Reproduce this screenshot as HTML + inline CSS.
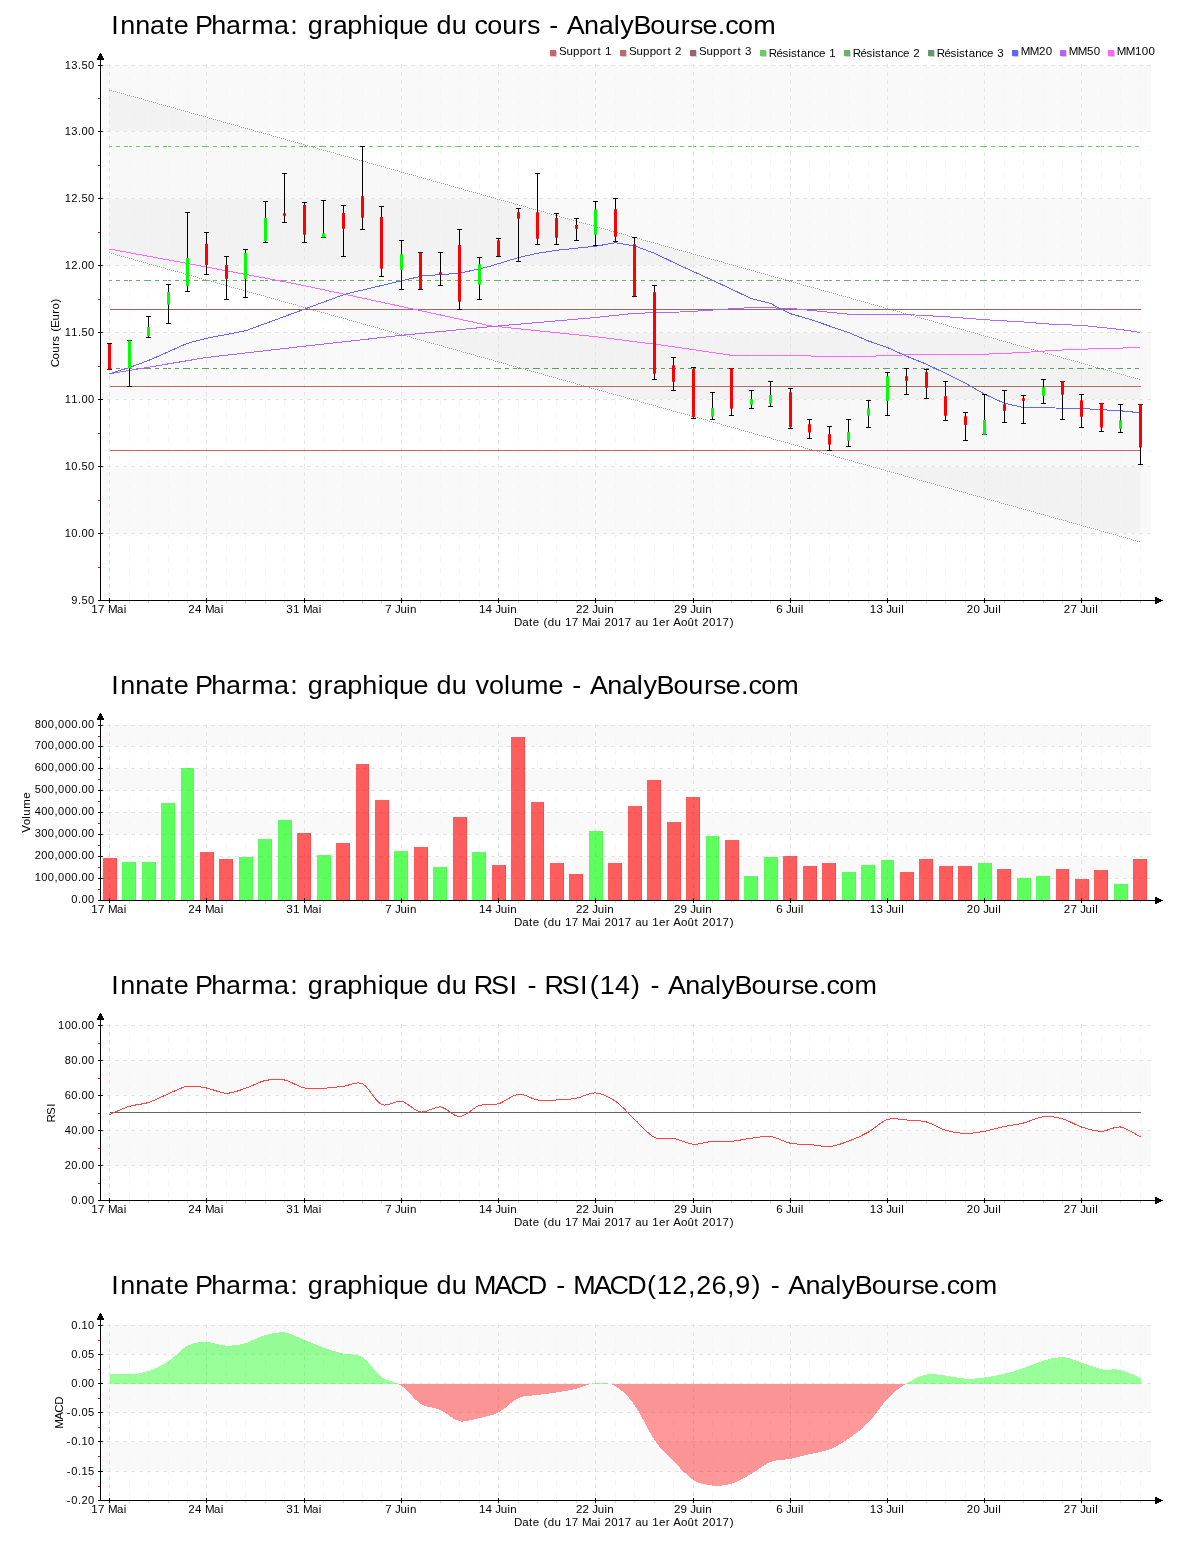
<!DOCTYPE html>
<html><head><meta charset="utf-8"><title>Innate Pharma</title>
<style>html,body{margin:0;padding:0;background:#fff}svg{display:block;will-change:transform}text{font-family:"Liberation Sans",sans-serif}</style>
</head><body>
<svg width="1200" height="1550" viewBox="0 0 1200 1550">
<rect width="1200" height="1550" fill="#fff"/>
<rect x="102" y="65" width="1049" height="66" fill="#f9f9f9"/>
<rect x="102" y="198" width="1049" height="67" fill="#f9f9f9"/>
<rect x="102" y="332" width="1049" height="67" fill="#f9f9f9"/>
<rect x="102" y="466" width="1049" height="67" fill="#f9f9f9"/>
<polygon points="109.5,90 1140.5,379.7 1140.5,542 109.5,252.8" fill="#000" fill-opacity="0.027"/>
<line x1="109.5" y1="64" x2="109.5" y2="600" stroke="#e4e4e4" stroke-dasharray="4 4" shape-rendering="crispEdges"/>
<line x1="129.5" y1="64" x2="129.5" y2="600" stroke="#f5f5f5" stroke-dasharray="6 6" shape-rendering="crispEdges"/>
<line x1="148.5" y1="64" x2="148.5" y2="600" stroke="#f5f5f5" stroke-dasharray="6 6" shape-rendering="crispEdges"/>
<line x1="168.5" y1="64" x2="168.5" y2="600" stroke="#f5f5f5" stroke-dasharray="6 6" shape-rendering="crispEdges"/>
<line x1="187.5" y1="64" x2="187.5" y2="600" stroke="#f5f5f5" stroke-dasharray="6 6" shape-rendering="crispEdges"/>
<line x1="206.5" y1="64" x2="206.5" y2="600" stroke="#e4e4e4" stroke-dasharray="4 4" shape-rendering="crispEdges"/>
<line x1="226.5" y1="64" x2="226.5" y2="600" stroke="#f5f5f5" stroke-dasharray="6 6" shape-rendering="crispEdges"/>
<line x1="245.5" y1="64" x2="245.5" y2="600" stroke="#f5f5f5" stroke-dasharray="6 6" shape-rendering="crispEdges"/>
<line x1="265.5" y1="64" x2="265.5" y2="600" stroke="#f5f5f5" stroke-dasharray="6 6" shape-rendering="crispEdges"/>
<line x1="284.5" y1="64" x2="284.5" y2="600" stroke="#f5f5f5" stroke-dasharray="6 6" shape-rendering="crispEdges"/>
<line x1="304.5" y1="64" x2="304.5" y2="600" stroke="#e4e4e4" stroke-dasharray="4 4" shape-rendering="crispEdges"/>
<line x1="323.5" y1="64" x2="323.5" y2="600" stroke="#f5f5f5" stroke-dasharray="6 6" shape-rendering="crispEdges"/>
<line x1="343.5" y1="64" x2="343.5" y2="600" stroke="#f5f5f5" stroke-dasharray="6 6" shape-rendering="crispEdges"/>
<line x1="362.5" y1="64" x2="362.5" y2="600" stroke="#f5f5f5" stroke-dasharray="6 6" shape-rendering="crispEdges"/>
<line x1="381.5" y1="64" x2="381.5" y2="600" stroke="#f5f5f5" stroke-dasharray="6 6" shape-rendering="crispEdges"/>
<line x1="401.5" y1="64" x2="401.5" y2="600" stroke="#e4e4e4" stroke-dasharray="4 4" shape-rendering="crispEdges"/>
<line x1="420.5" y1="64" x2="420.5" y2="600" stroke="#f5f5f5" stroke-dasharray="6 6" shape-rendering="crispEdges"/>
<line x1="440.5" y1="64" x2="440.5" y2="600" stroke="#f5f5f5" stroke-dasharray="6 6" shape-rendering="crispEdges"/>
<line x1="459.5" y1="64" x2="459.5" y2="600" stroke="#f5f5f5" stroke-dasharray="6 6" shape-rendering="crispEdges"/>
<line x1="479.5" y1="64" x2="479.5" y2="600" stroke="#f5f5f5" stroke-dasharray="6 6" shape-rendering="crispEdges"/>
<line x1="498.5" y1="64" x2="498.5" y2="600" stroke="#e4e4e4" stroke-dasharray="4 4" shape-rendering="crispEdges"/>
<line x1="518.5" y1="64" x2="518.5" y2="600" stroke="#f5f5f5" stroke-dasharray="6 6" shape-rendering="crispEdges"/>
<line x1="537.5" y1="64" x2="537.5" y2="600" stroke="#f5f5f5" stroke-dasharray="6 6" shape-rendering="crispEdges"/>
<line x1="556.5" y1="64" x2="556.5" y2="600" stroke="#f5f5f5" stroke-dasharray="6 6" shape-rendering="crispEdges"/>
<line x1="576.5" y1="64" x2="576.5" y2="600" stroke="#f5f5f5" stroke-dasharray="6 6" shape-rendering="crispEdges"/>
<line x1="595.5" y1="64" x2="595.5" y2="600" stroke="#e4e4e4" stroke-dasharray="4 4" shape-rendering="crispEdges"/>
<line x1="615.5" y1="64" x2="615.5" y2="600" stroke="#f5f5f5" stroke-dasharray="6 6" shape-rendering="crispEdges"/>
<line x1="634.5" y1="64" x2="634.5" y2="600" stroke="#f5f5f5" stroke-dasharray="6 6" shape-rendering="crispEdges"/>
<line x1="654.5" y1="64" x2="654.5" y2="600" stroke="#f5f5f5" stroke-dasharray="6 6" shape-rendering="crispEdges"/>
<line x1="673.5" y1="64" x2="673.5" y2="600" stroke="#f5f5f5" stroke-dasharray="6 6" shape-rendering="crispEdges"/>
<line x1="693.5" y1="64" x2="693.5" y2="600" stroke="#e4e4e4" stroke-dasharray="4 4" shape-rendering="crispEdges"/>
<line x1="712.5" y1="64" x2="712.5" y2="600" stroke="#f5f5f5" stroke-dasharray="6 6" shape-rendering="crispEdges"/>
<line x1="731.5" y1="64" x2="731.5" y2="600" stroke="#f5f5f5" stroke-dasharray="6 6" shape-rendering="crispEdges"/>
<line x1="751.5" y1="64" x2="751.5" y2="600" stroke="#f5f5f5" stroke-dasharray="6 6" shape-rendering="crispEdges"/>
<line x1="770.5" y1="64" x2="770.5" y2="600" stroke="#f5f5f5" stroke-dasharray="6 6" shape-rendering="crispEdges"/>
<line x1="790.5" y1="64" x2="790.5" y2="600" stroke="#e4e4e4" stroke-dasharray="4 4" shape-rendering="crispEdges"/>
<line x1="809.5" y1="64" x2="809.5" y2="600" stroke="#f5f5f5" stroke-dasharray="6 6" shape-rendering="crispEdges"/>
<line x1="829.5" y1="64" x2="829.5" y2="600" stroke="#f5f5f5" stroke-dasharray="6 6" shape-rendering="crispEdges"/>
<line x1="848.5" y1="64" x2="848.5" y2="600" stroke="#f5f5f5" stroke-dasharray="6 6" shape-rendering="crispEdges"/>
<line x1="868.5" y1="64" x2="868.5" y2="600" stroke="#f5f5f5" stroke-dasharray="6 6" shape-rendering="crispEdges"/>
<line x1="887.5" y1="64" x2="887.5" y2="600" stroke="#e4e4e4" stroke-dasharray="4 4" shape-rendering="crispEdges"/>
<line x1="906.5" y1="64" x2="906.5" y2="600" stroke="#f5f5f5" stroke-dasharray="6 6" shape-rendering="crispEdges"/>
<line x1="926.5" y1="64" x2="926.5" y2="600" stroke="#f5f5f5" stroke-dasharray="6 6" shape-rendering="crispEdges"/>
<line x1="945.5" y1="64" x2="945.5" y2="600" stroke="#f5f5f5" stroke-dasharray="6 6" shape-rendering="crispEdges"/>
<line x1="965.5" y1="64" x2="965.5" y2="600" stroke="#f5f5f5" stroke-dasharray="6 6" shape-rendering="crispEdges"/>
<line x1="984.5" y1="64" x2="984.5" y2="600" stroke="#e4e4e4" stroke-dasharray="4 4" shape-rendering="crispEdges"/>
<line x1="1004.5" y1="64" x2="1004.5" y2="600" stroke="#f5f5f5" stroke-dasharray="6 6" shape-rendering="crispEdges"/>
<line x1="1023.5" y1="64" x2="1023.5" y2="600" stroke="#f5f5f5" stroke-dasharray="6 6" shape-rendering="crispEdges"/>
<line x1="1043.5" y1="64" x2="1043.5" y2="600" stroke="#f5f5f5" stroke-dasharray="6 6" shape-rendering="crispEdges"/>
<line x1="1062.5" y1="64" x2="1062.5" y2="600" stroke="#f5f5f5" stroke-dasharray="6 6" shape-rendering="crispEdges"/>
<line x1="1081.5" y1="64" x2="1081.5" y2="600" stroke="#e4e4e4" stroke-dasharray="4 4" shape-rendering="crispEdges"/>
<line x1="1101.5" y1="64" x2="1101.5" y2="600" stroke="#f5f5f5" stroke-dasharray="6 6" shape-rendering="crispEdges"/>
<line x1="1120.5" y1="64" x2="1120.5" y2="600" stroke="#f5f5f5" stroke-dasharray="6 6" shape-rendering="crispEdges"/>
<line x1="1140.5" y1="64" x2="1140.5" y2="600" stroke="#f5f5f5" stroke-dasharray="6 6" shape-rendering="crispEdges"/>
<line x1="107" y1="65.5" x2="1151" y2="65.5" stroke="#e4e4e4" stroke-dasharray="4 4" shape-rendering="crispEdges"/>
<line x1="101" y1="131.5" x2="1151" y2="131.5" stroke="#fff" stroke-opacity="0.75" shape-rendering="crispEdges"/>
<line x1="107" y1="131.5" x2="1151" y2="131.5" stroke="#e4e4e4" stroke-dasharray="4 4" shape-rendering="crispEdges"/>
<line x1="101" y1="198.5" x2="1151" y2="198.5" stroke="#fff" stroke-opacity="0.75" shape-rendering="crispEdges"/>
<line x1="107" y1="198.5" x2="1151" y2="198.5" stroke="#e4e4e4" stroke-dasharray="4 4" shape-rendering="crispEdges"/>
<line x1="101" y1="265.5" x2="1151" y2="265.5" stroke="#fff" stroke-opacity="0.75" shape-rendering="crispEdges"/>
<line x1="107" y1="265.5" x2="1151" y2="265.5" stroke="#e4e4e4" stroke-dasharray="4 4" shape-rendering="crispEdges"/>
<line x1="101" y1="332.5" x2="1151" y2="332.5" stroke="#fff" stroke-opacity="0.75" shape-rendering="crispEdges"/>
<line x1="107" y1="332.5" x2="1151" y2="332.5" stroke="#e4e4e4" stroke-dasharray="4 4" shape-rendering="crispEdges"/>
<line x1="101" y1="399.5" x2="1151" y2="399.5" stroke="#fff" stroke-opacity="0.75" shape-rendering="crispEdges"/>
<line x1="107" y1="399.5" x2="1151" y2="399.5" stroke="#e4e4e4" stroke-dasharray="4 4" shape-rendering="crispEdges"/>
<line x1="101" y1="466.5" x2="1151" y2="466.5" stroke="#fff" stroke-opacity="0.75" shape-rendering="crispEdges"/>
<line x1="107" y1="466.5" x2="1151" y2="466.5" stroke="#e4e4e4" stroke-dasharray="4 4" shape-rendering="crispEdges"/>
<line x1="101" y1="533.5" x2="1151" y2="533.5" stroke="#fff" stroke-opacity="0.75" shape-rendering="crispEdges"/>
<line x1="107" y1="533.5" x2="1151" y2="533.5" stroke="#e4e4e4" stroke-dasharray="4 4" shape-rendering="crispEdges"/>
<path d="M109,90.5h1M111,90.5h1M113,91.5h1M115,91.5h1M117,92.5h1M119,92.5h1M121,93.5h1M123,93.5h1M125,94.5h1M127,95.5h1M129,95.5h1M131,96.5h1M133,96.5h1M135,97.5h1M137,97.5h1M139,98.5h1M141,98.5h1M143,99.5h1M145,100.5h1M147,100.5h1M149,101.5h1M151,101.5h1M153,102.5h1M155,102.5h1M157,103.5h1M159,104.5h1M161,104.5h1M163,105.5h1M165,105.5h1M167,106.5h1M169,106.5h1M171,107.5h1M173,107.5h1M175,108.5h1M177,109.5h1M179,109.5h1M181,110.5h1M183,110.5h1M185,111.5h1M187,111.5h1M189,112.5h1M191,113.5h1M193,113.5h1M195,114.5h1M197,114.5h1M199,115.5h1M201,115.5h1M203,116.5h1M205,116.5h1M207,117.5h1M209,118.5h1M211,118.5h1M213,119.5h1M215,119.5h1M217,120.5h1M219,120.5h1M221,121.5h1M223,122.5h1M225,122.5h1M227,123.5h1M229,123.5h1M231,124.5h1M233,124.5h1M235,125.5h1M237,125.5h1M239,126.5h1M241,127.5h1M243,127.5h1M245,128.5h1M247,128.5h1M249,129.5h1M251,129.5h1M253,130.5h1M255,131.5h1M257,131.5h1M259,132.5h1M261,132.5h1M263,133.5h1M265,133.5h1M267,134.5h1M269,134.5h1M271,135.5h1M273,136.5h1M275,136.5h1M277,137.5h1M279,137.5h1M281,138.5h1M283,138.5h1M285,139.5h1M287,140.5h1M289,140.5h1M291,141.5h1M293,141.5h1M295,142.5h1M297,142.5h1M299,143.5h1M301,143.5h1M303,144.5h1M305,145.5h1M307,145.5h1M309,146.5h1M311,146.5h1M313,147.5h1M315,147.5h1M317,148.5h1M319,149.5h1M321,149.5h1M323,150.5h1M325,150.5h1M327,151.5h1M329,151.5h1M331,152.5h1M333,152.5h1M335,153.5h1M337,154.5h1M339,154.5h1M341,155.5h1M343,155.5h1M345,156.5h1M347,156.5h1M349,157.5h1M351,157.5h1M353,158.5h1M355,159.5h1M357,159.5h1M359,160.5h1M361,160.5h1M363,161.5h1M365,161.5h1M367,162.5h1M369,163.5h1M371,163.5h1M373,164.5h1M375,164.5h1M377,165.5h1M379,165.5h1M381,166.5h1M383,166.5h1M385,167.5h1M387,168.5h1M389,168.5h1M391,169.5h1M393,169.5h1M395,170.5h1M397,170.5h1M399,171.5h1M401,172.5h1M403,172.5h1M405,173.5h1M407,173.5h1M409,174.5h1M411,174.5h1M413,175.5h1M415,175.5h1M417,176.5h1M419,177.5h1M421,177.5h1M423,178.5h1M425,178.5h1M427,179.5h1M429,179.5h1M431,180.5h1M433,181.5h1M435,181.5h1M437,182.5h1M439,182.5h1M441,183.5h1M443,183.5h1M445,184.5h1M447,184.5h1M449,185.5h1M451,186.5h1M453,186.5h1M455,187.5h1M457,187.5h1M459,188.5h1M461,188.5h1M463,189.5h1M465,190.5h1M467,190.5h1M469,191.5h1M471,191.5h1M473,192.5h1M475,192.5h1M477,193.5h1M479,193.5h1M481,194.5h1M483,195.5h1M485,195.5h1M487,196.5h1M489,196.5h1M491,197.5h1M493,197.5h1M495,198.5h1M497,199.5h1M499,199.5h1M501,200.5h1M503,200.5h1M505,201.5h1M507,201.5h1M509,202.5h1M511,202.5h1M513,203.5h1M515,204.5h1M517,204.5h1M519,205.5h1M521,205.5h1M523,206.5h1M525,206.5h1M527,207.5h1M529,208.5h1M531,208.5h1M533,209.5h1M535,209.5h1M537,210.5h1M539,210.5h1M541,211.5h1M543,211.5h1M545,212.5h1M547,213.5h1M549,213.5h1M551,214.5h1M553,214.5h1M555,215.5h1M557,215.5h1M559,216.5h1M561,217.5h1M563,217.5h1M565,218.5h1M567,218.5h1M569,219.5h1M571,219.5h1M573,220.5h1M575,220.5h1M577,221.5h1M579,222.5h1M581,222.5h1M583,223.5h1M585,223.5h1M587,224.5h1M589,224.5h1M591,225.5h1M593,225.5h1M595,226.5h1M597,227.5h1M599,227.5h1M601,228.5h1M603,228.5h1M605,229.5h1M607,229.5h1M609,230.5h1M611,231.5h1M613,231.5h1M615,232.5h1M617,232.5h1M619,233.5h1M621,233.5h1M623,234.5h1M625,234.5h1M627,235.5h1M629,236.5h1M631,236.5h1M633,237.5h1M635,237.5h1M637,238.5h1M639,238.5h1M641,239.5h1M643,240.5h1M645,240.5h1M647,241.5h1M649,241.5h1M651,242.5h1M653,242.5h1M655,243.5h1M657,243.5h1M659,244.5h1M661,245.5h1M663,245.5h1M665,246.5h1M667,246.5h1M669,247.5h1M671,247.5h1M673,248.5h1M675,249.5h1M677,249.5h1M679,250.5h1M681,250.5h1M683,251.5h1M685,251.5h1M687,252.5h1M689,252.5h1M691,253.5h1M693,254.5h1M695,254.5h1M697,255.5h1M699,255.5h1M701,256.5h1M703,256.5h1M705,257.5h1M707,258.5h1M709,258.5h1M711,259.5h1M713,259.5h1M715,260.5h1M717,260.5h1M719,261.5h1M721,261.5h1M723,262.5h1M725,263.5h1M727,263.5h1M729,264.5h1M731,264.5h1M733,265.5h1M735,265.5h1M737,266.5h1M739,267.5h1M741,267.5h1M743,268.5h1M745,268.5h1M747,269.5h1M749,269.5h1M751,270.5h1M753,270.5h1M755,271.5h1M757,272.5h1M759,272.5h1M761,273.5h1M763,273.5h1M765,274.5h1M767,274.5h1M769,275.5h1M771,276.5h1M773,276.5h1M775,277.5h1M777,277.5h1M779,278.5h1M781,278.5h1M783,279.5h1M785,279.5h1M787,280.5h1M789,281.5h1M791,281.5h1M793,282.5h1M795,282.5h1M797,283.5h1M799,283.5h1M801,284.5h1M803,285.5h1M805,285.5h1M807,286.5h1M809,286.5h1M811,287.5h1M813,287.5h1M815,288.5h1M817,288.5h1M819,289.5h1M821,290.5h1M823,290.5h1M825,291.5h1M827,291.5h1M829,292.5h1M831,292.5h1M833,293.5h1M835,293.5h1M837,294.5h1M839,295.5h1M841,295.5h1M843,296.5h1M845,296.5h1M847,297.5h1M849,297.5h1M851,298.5h1M853,299.5h1M855,299.5h1M857,300.5h1M859,300.5h1M861,301.5h1M863,301.5h1M865,302.5h1M867,302.5h1M869,303.5h1M871,304.5h1M873,304.5h1M875,305.5h1M877,305.5h1M879,306.5h1M881,306.5h1M883,307.5h1M885,308.5h1M887,308.5h1M889,309.5h1M891,309.5h1M893,310.5h1M895,310.5h1M897,311.5h1M899,311.5h1M901,312.5h1M903,313.5h1M905,313.5h1M907,314.5h1M909,314.5h1M911,315.5h1M913,315.5h1M915,316.5h1M917,317.5h1M919,317.5h1M921,318.5h1M923,318.5h1M925,319.5h1M927,319.5h1M929,320.5h1M931,320.5h1M933,321.5h1M935,322.5h1M937,322.5h1M939,323.5h1M941,323.5h1M943,324.5h1M945,324.5h1M947,325.5h1M949,326.5h1M951,326.5h1M953,327.5h1M955,327.5h1M957,328.5h1M959,328.5h1M961,329.5h1M963,329.5h1M965,330.5h1M967,331.5h1M969,331.5h1M971,332.5h1M973,332.5h1M975,333.5h1M977,333.5h1M979,334.5h1M981,335.5h1M983,335.5h1M985,336.5h1M987,336.5h1M989,337.5h1M991,337.5h1M993,338.5h1M995,338.5h1M997,339.5h1M999,340.5h1M1001,340.5h1M1003,341.5h1M1005,341.5h1M1007,342.5h1M1009,342.5h1M1011,343.5h1M1013,344.5h1M1015,344.5h1M1017,345.5h1M1019,345.5h1M1021,346.5h1M1023,346.5h1M1025,347.5h1M1027,347.5h1M1029,348.5h1M1031,349.5h1M1033,349.5h1M1035,350.5h1M1037,350.5h1M1039,351.5h1M1041,351.5h1M1043,352.5h1M1045,353.5h1M1047,353.5h1M1049,354.5h1M1051,354.5h1M1053,355.5h1M1055,355.5h1M1057,356.5h1M1059,356.5h1M1061,357.5h1M1063,358.5h1M1065,358.5h1M1067,359.5h1M1069,359.5h1M1071,360.5h1M1073,360.5h1M1075,361.5h1M1077,361.5h1M1079,362.5h1M1081,363.5h1M1083,363.5h1M1085,364.5h1M1087,364.5h1M1089,365.5h1M1091,365.5h1M1093,366.5h1M1095,367.5h1M1097,367.5h1M1099,368.5h1M1101,368.5h1M1103,369.5h1M1105,369.5h1M1107,370.5h1M1109,370.5h1M1111,371.5h1M1113,372.5h1M1115,372.5h1M1117,373.5h1M1119,373.5h1M1121,374.5h1M1123,374.5h1M1125,375.5h1M1127,376.5h1M1129,376.5h1M1131,377.5h1M1133,377.5h1M1135,378.5h1M1137,378.5h1M1139,379.5h1" stroke="#a2a2a2" fill="none" shape-rendering="crispEdges"/>
<path d="M109,252.5h1M111,253.5h1M113,253.5h1M115,254.5h1M117,255.5h1M119,255.5h1M121,256.5h1M123,256.5h1M125,257.5h1M127,257.5h1M129,258.5h1M131,258.5h1M133,259.5h1M135,260.5h1M137,260.5h1M139,261.5h1M141,261.5h1M143,262.5h1M145,262.5h1M147,263.5h1M149,264.5h1M151,264.5h1M153,265.5h1M155,265.5h1M157,266.5h1M159,266.5h1M161,267.5h1M163,267.5h1M165,268.5h1M167,269.5h1M169,269.5h1M171,270.5h1M173,270.5h1M175,271.5h1M177,271.5h1M179,272.5h1M181,272.5h1M183,273.5h1M185,274.5h1M187,274.5h1M189,275.5h1M191,275.5h1M193,276.5h1M195,276.5h1M197,277.5h1M199,278.5h1M201,278.5h1M203,279.5h1M205,279.5h1M207,280.5h1M209,280.5h1M211,281.5h1M213,281.5h1M215,282.5h1M217,283.5h1M219,283.5h1M221,284.5h1M223,284.5h1M225,285.5h1M227,285.5h1M229,286.5h1M231,287.5h1M233,287.5h1M235,288.5h1M237,288.5h1M239,289.5h1M241,289.5h1M243,290.5h1M245,290.5h1M247,291.5h1M249,292.5h1M251,292.5h1M253,293.5h1M255,293.5h1M257,294.5h1M259,294.5h1M261,295.5h1M263,295.5h1M265,296.5h1M267,297.5h1M269,297.5h1M271,298.5h1M273,298.5h1M275,299.5h1M277,299.5h1M279,300.5h1M281,301.5h1M283,301.5h1M285,302.5h1M287,302.5h1M289,303.5h1M291,303.5h1M293,304.5h1M295,304.5h1M297,305.5h1M299,306.5h1M301,306.5h1M303,307.5h1M305,307.5h1M307,308.5h1M309,308.5h1M311,309.5h1M313,310.5h1M315,310.5h1M317,311.5h1M319,311.5h1M321,312.5h1M323,312.5h1M325,313.5h1M327,313.5h1M329,314.5h1M331,315.5h1M333,315.5h1M335,316.5h1M337,316.5h1M339,317.5h1M341,317.5h1M343,318.5h1M345,318.5h1M347,319.5h1M349,320.5h1M351,320.5h1M353,321.5h1M355,321.5h1M357,322.5h1M359,322.5h1M361,323.5h1M363,324.5h1M365,324.5h1M367,325.5h1M369,325.5h1M371,326.5h1M373,326.5h1M375,327.5h1M377,327.5h1M379,328.5h1M381,329.5h1M383,329.5h1M385,330.5h1M387,330.5h1M389,331.5h1M391,331.5h1M393,332.5h1M395,333.5h1M397,333.5h1M399,334.5h1M401,334.5h1M403,335.5h1M405,335.5h1M407,336.5h1M409,336.5h1M411,337.5h1M413,338.5h1M415,338.5h1M417,339.5h1M419,339.5h1M421,340.5h1M423,340.5h1M425,341.5h1M427,342.5h1M429,342.5h1M431,343.5h1M433,343.5h1M435,344.5h1M437,344.5h1M439,345.5h1M441,345.5h1M443,346.5h1M445,347.5h1M447,347.5h1M449,348.5h1M451,348.5h1M453,349.5h1M455,349.5h1M457,350.5h1M459,350.5h1M461,351.5h1M463,352.5h1M465,352.5h1M467,353.5h1M469,353.5h1M471,354.5h1M473,354.5h1M475,355.5h1M477,356.5h1M479,356.5h1M481,357.5h1M483,357.5h1M485,358.5h1M487,358.5h1M489,359.5h1M491,359.5h1M493,360.5h1M495,361.5h1M497,361.5h1M499,362.5h1M501,362.5h1M503,363.5h1M505,363.5h1M507,364.5h1M509,365.5h1M511,365.5h1M513,366.5h1M515,366.5h1M517,367.5h1M519,367.5h1M521,368.5h1M523,368.5h1M525,369.5h1M527,370.5h1M529,370.5h1M531,371.5h1M533,371.5h1M535,372.5h1M537,372.5h1M539,373.5h1M541,373.5h1M543,374.5h1M545,375.5h1M547,375.5h1M549,376.5h1M551,376.5h1M553,377.5h1M555,377.5h1M557,378.5h1M559,379.5h1M561,379.5h1M563,380.5h1M565,380.5h1M567,381.5h1M569,381.5h1M571,382.5h1M573,382.5h1M575,383.5h1M577,384.5h1M579,384.5h1M581,385.5h1M583,385.5h1M585,386.5h1M587,386.5h1M589,387.5h1M591,388.5h1M593,388.5h1M595,389.5h1M597,389.5h1M599,390.5h1M601,390.5h1M603,391.5h1M605,391.5h1M607,392.5h1M609,393.5h1M611,393.5h1M613,394.5h1M615,394.5h1M617,395.5h1M619,395.5h1M621,396.5h1M623,396.5h1M625,397.5h1M627,398.5h1M629,398.5h1M631,399.5h1M633,399.5h1M635,400.5h1M637,400.5h1M639,401.5h1M641,402.5h1M643,402.5h1M645,403.5h1M647,403.5h1M649,404.5h1M651,404.5h1M653,405.5h1M655,405.5h1M657,406.5h1M659,407.5h1M661,407.5h1M663,408.5h1M665,408.5h1M667,409.5h1M669,409.5h1M671,410.5h1M673,411.5h1M675,411.5h1M677,412.5h1M679,412.5h1M681,413.5h1M683,413.5h1M685,414.5h1M687,414.5h1M689,415.5h1M691,416.5h1M693,416.5h1M695,417.5h1M697,417.5h1M699,418.5h1M701,418.5h1M703,419.5h1M705,419.5h1M707,420.5h1M709,421.5h1M711,421.5h1M713,422.5h1M715,422.5h1M717,423.5h1M719,423.5h1M721,424.5h1M723,425.5h1M725,425.5h1M727,426.5h1M729,426.5h1M731,427.5h1M733,427.5h1M735,428.5h1M737,428.5h1M739,429.5h1M741,430.5h1M743,430.5h1M745,431.5h1M747,431.5h1M749,432.5h1M751,432.5h1M753,433.5h1M755,434.5h1M757,434.5h1M759,435.5h1M761,435.5h1M763,436.5h1M765,436.5h1M767,437.5h1M769,437.5h1M771,438.5h1M773,439.5h1M775,439.5h1M777,440.5h1M779,440.5h1M781,441.5h1M783,441.5h1M785,442.5h1M787,442.5h1M789,443.5h1M791,444.5h1M793,444.5h1M795,445.5h1M797,445.5h1M799,446.5h1M801,446.5h1M803,447.5h1M805,448.5h1M807,448.5h1M809,449.5h1M811,449.5h1M813,450.5h1M815,450.5h1M817,451.5h1M819,451.5h1M821,452.5h1M823,453.5h1M825,453.5h1M827,454.5h1M829,454.5h1M831,455.5h1M833,455.5h1M835,456.5h1M837,457.5h1M839,457.5h1M841,458.5h1M843,458.5h1M845,459.5h1M847,459.5h1M849,460.5h1M851,460.5h1M853,461.5h1M855,462.5h1M857,462.5h1M859,463.5h1M861,463.5h1M863,464.5h1M865,464.5h1M867,465.5h1M869,465.5h1M871,466.5h1M873,467.5h1M875,467.5h1M877,468.5h1M879,468.5h1M881,469.5h1M883,469.5h1M885,470.5h1M887,471.5h1M889,471.5h1M891,472.5h1M893,472.5h1M895,473.5h1M897,473.5h1M899,474.5h1M901,474.5h1M903,475.5h1M905,476.5h1M907,476.5h1M909,477.5h1M911,477.5h1M913,478.5h1M915,478.5h1M917,479.5h1M919,480.5h1M921,480.5h1M923,481.5h1M925,481.5h1M927,482.5h1M929,482.5h1M931,483.5h1M933,483.5h1M935,484.5h1M937,485.5h1M939,485.5h1M941,486.5h1M943,486.5h1M945,487.5h1M947,487.5h1M949,488.5h1M951,488.5h1M953,489.5h1M955,490.5h1M957,490.5h1M959,491.5h1M961,491.5h1M963,492.5h1M965,492.5h1M967,493.5h1M969,494.5h1M971,494.5h1M973,495.5h1M975,495.5h1M977,496.5h1M979,496.5h1M981,497.5h1M983,497.5h1M985,498.5h1M987,499.5h1M989,499.5h1M991,500.5h1M993,500.5h1M995,501.5h1M997,501.5h1M999,502.5h1M1001,503.5h1M1003,503.5h1M1005,504.5h1M1007,504.5h1M1009,505.5h1M1011,505.5h1M1013,506.5h1M1015,506.5h1M1017,507.5h1M1019,508.5h1M1021,508.5h1M1023,509.5h1M1025,509.5h1M1027,510.5h1M1029,510.5h1M1031,511.5h1M1033,511.5h1M1035,512.5h1M1037,513.5h1M1039,513.5h1M1041,514.5h1M1043,514.5h1M1045,515.5h1M1047,515.5h1M1049,516.5h1M1051,517.5h1M1053,517.5h1M1055,518.5h1M1057,518.5h1M1059,519.5h1M1061,519.5h1M1063,520.5h1M1065,520.5h1M1067,521.5h1M1069,522.5h1M1071,522.5h1M1073,523.5h1M1075,523.5h1M1077,524.5h1M1079,524.5h1M1081,525.5h1M1083,526.5h1M1085,526.5h1M1087,527.5h1M1089,527.5h1M1091,528.5h1M1093,528.5h1M1095,529.5h1M1097,529.5h1M1099,530.5h1M1101,531.5h1M1103,531.5h1M1105,532.5h1M1107,532.5h1M1109,533.5h1M1111,533.5h1M1113,534.5h1M1115,534.5h1M1117,535.5h1M1119,536.5h1M1121,536.5h1M1123,537.5h1M1125,537.5h1M1127,538.5h1M1129,538.5h1M1131,539.5h1M1133,540.5h1M1135,540.5h1M1137,541.5h1M1139,541.5h1" stroke="#a2a2a2" fill="none" shape-rendering="crispEdges"/>
<line x1="109.5" y1="309.5" x2="1140.5" y2="309.5" stroke="#996666" shape-rendering="crispEdges"/>
<line x1="109.5" y1="386.5" x2="1140.5" y2="386.5" stroke="#b26b6b" shape-rendering="crispEdges"/>
<line x1="109.5" y1="450.5" x2="1140.5" y2="450.5" stroke="#cc6666" shape-rendering="crispEdges"/>
<path d="M109.0,146.5H112.0M116.0,146.5H120.0M124.0,146.5H128.0M129.0,146.5H132.0M136.0,146.5H140.0M144.0,146.5H148.0M148.0,146.5H151.0M155.0,146.5H159.0M163.0,146.5H167.0M168.0,146.5H171.0M175.0,146.5H179.0M183.0,146.5H187.0M187.0,146.5H190.0M194.0,146.5H198.0M202.0,146.5H206.0M206.0,146.5H209.0M213.0,146.5H217.0M221.0,146.5H225.0M226.0,146.5H229.0M233.0,146.5H237.0M241.0,146.5H245.0M245.0,146.5H248.0M252.0,146.5H256.0M260.0,146.5H264.0M265.0,146.5H268.0M272.0,146.5H276.0M280.0,146.5H284.0M284.0,146.5H287.0M291.0,146.5H295.0M299.0,146.5H303.0M304.0,146.5H307.0M311.0,146.5H315.0M319.0,146.5H323.0M323.0,146.5H326.0M330.0,146.5H334.0M338.0,146.5H342.0M343.0,146.5H346.0M350.0,146.5H354.0M358.0,146.5H362.0M362.0,146.5H365.0M369.0,146.5H373.0M377.0,146.5H381.0M381.0,146.5H384.0M388.0,146.5H392.0M396.0,146.5H400.0M401.0,146.5H404.0M408.0,146.5H412.0M416.0,146.5H420.0M420.0,146.5H423.0M427.0,146.5H431.0M435.0,146.5H439.0M440.0,146.5H443.0M447.0,146.5H451.0M455.0,146.5H459.0M459.0,146.5H462.0M466.0,146.5H470.0M474.0,146.5H478.0M479.0,146.5H482.0M486.0,146.5H490.0M494.0,146.5H498.0M498.0,146.5H501.0M505.0,146.5H509.0M513.0,146.5H517.0M518.0,146.5H521.0M525.0,146.5H529.0M533.0,146.5H537.0M537.0,146.5H540.0M544.0,146.5H548.0M552.0,146.5H556.0M556.0,146.5H559.0M563.0,146.5H567.0M571.0,146.5H575.0M576.0,146.5H579.0M583.0,146.5H587.0M591.0,146.5H595.0M595.0,146.5H598.0M602.0,146.5H606.0M610.0,146.5H614.0M615.0,146.5H618.0M622.0,146.5H626.0M630.0,146.5H634.0M634.0,146.5H637.0M641.0,146.5H645.0M649.0,146.5H653.0M654.0,146.5H657.0M661.0,146.5H665.0M669.0,146.5H673.0M673.0,146.5H676.0M680.0,146.5H684.0M688.0,146.5H692.0M693.0,146.5H696.0M700.0,146.5H704.0M708.0,146.5H712.0M712.0,146.5H715.0M719.0,146.5H723.0M727.0,146.5H731.0M731.0,146.5H734.0M738.0,146.5H742.0M746.0,146.5H750.0M751.0,146.5H754.0M758.0,146.5H762.0M766.0,146.5H770.0M770.0,146.5H773.0M777.0,146.5H781.0M785.0,146.5H789.0M790.0,146.5H793.0M797.0,146.5H801.0M805.0,146.5H809.0M809.0,146.5H812.0M816.0,146.5H820.0M824.0,146.5H828.0M829.0,146.5H832.0M836.0,146.5H840.0M844.0,146.5H848.0M848.0,146.5H851.0M855.0,146.5H859.0M863.0,146.5H867.0M868.0,146.5H871.0M875.0,146.5H879.0M883.0,146.5H887.0M887.0,146.5H890.0M894.0,146.5H898.0M902.0,146.5H906.0M906.0,146.5H909.0M913.0,146.5H917.0M921.0,146.5H925.0M926.0,146.5H929.0M933.0,146.5H937.0M941.0,146.5H945.0M945.0,146.5H948.0M952.0,146.5H956.0M960.0,146.5H964.0M965.0,146.5H968.0M972.0,146.5H976.0M980.0,146.5H984.0M984.0,146.5H987.0M991.0,146.5H995.0M999.0,146.5H1003.0M1004.0,146.5H1007.0M1011.0,146.5H1015.0M1019.0,146.5H1023.0M1023.0,146.5H1026.0M1030.0,146.5H1034.0M1038.0,146.5H1042.0M1043.0,146.5H1046.0M1050.0,146.5H1054.0M1058.0,146.5H1062.0M1062.0,146.5H1065.0M1069.0,146.5H1073.0M1077.0,146.5H1081.0M1081.0,146.5H1084.0M1088.0,146.5H1092.0M1096.0,146.5H1100.0M1101.0,146.5H1104.0M1108.0,146.5H1112.0M1116.0,146.5H1120.0M1120.0,146.5H1123.0M1127.0,146.5H1131.0M1135.0,146.5H1139.0" stroke="#66cc66" fill="none" shape-rendering="crispEdges"/>
<path d="M109.0,280.5H112.0M116.0,280.5H120.0M124.0,280.5H128.0M129.0,280.5H132.0M136.0,280.5H140.0M144.0,280.5H148.0M148.0,280.5H151.0M155.0,280.5H159.0M163.0,280.5H167.0M168.0,280.5H171.0M175.0,280.5H179.0M183.0,280.5H187.0M187.0,280.5H190.0M194.0,280.5H198.0M202.0,280.5H206.0M206.0,280.5H209.0M213.0,280.5H217.0M221.0,280.5H225.0M226.0,280.5H229.0M233.0,280.5H237.0M241.0,280.5H245.0M245.0,280.5H248.0M252.0,280.5H256.0M260.0,280.5H264.0M265.0,280.5H268.0M272.0,280.5H276.0M280.0,280.5H284.0M284.0,280.5H287.0M291.0,280.5H295.0M299.0,280.5H303.0M304.0,280.5H307.0M311.0,280.5H315.0M319.0,280.5H323.0M323.0,280.5H326.0M330.0,280.5H334.0M338.0,280.5H342.0M343.0,280.5H346.0M350.0,280.5H354.0M358.0,280.5H362.0M362.0,280.5H365.0M369.0,280.5H373.0M377.0,280.5H381.0M381.0,280.5H384.0M388.0,280.5H392.0M396.0,280.5H400.0M401.0,280.5H404.0M408.0,280.5H412.0M416.0,280.5H420.0M420.0,280.5H423.0M427.0,280.5H431.0M435.0,280.5H439.0M440.0,280.5H443.0M447.0,280.5H451.0M455.0,280.5H459.0M459.0,280.5H462.0M466.0,280.5H470.0M474.0,280.5H478.0M479.0,280.5H482.0M486.0,280.5H490.0M494.0,280.5H498.0M498.0,280.5H501.0M505.0,280.5H509.0M513.0,280.5H517.0M518.0,280.5H521.0M525.0,280.5H529.0M533.0,280.5H537.0M537.0,280.5H540.0M544.0,280.5H548.0M552.0,280.5H556.0M556.0,280.5H559.0M563.0,280.5H567.0M571.0,280.5H575.0M576.0,280.5H579.0M583.0,280.5H587.0M591.0,280.5H595.0M595.0,280.5H598.0M602.0,280.5H606.0M610.0,280.5H614.0M615.0,280.5H618.0M622.0,280.5H626.0M630.0,280.5H634.0M634.0,280.5H637.0M641.0,280.5H645.0M649.0,280.5H653.0M654.0,280.5H657.0M661.0,280.5H665.0M669.0,280.5H673.0M673.0,280.5H676.0M680.0,280.5H684.0M688.0,280.5H692.0M693.0,280.5H696.0M700.0,280.5H704.0M708.0,280.5H712.0M712.0,280.5H715.0M719.0,280.5H723.0M727.0,280.5H731.0M731.0,280.5H734.0M738.0,280.5H742.0M746.0,280.5H750.0M751.0,280.5H754.0M758.0,280.5H762.0M766.0,280.5H770.0M770.0,280.5H773.0M777.0,280.5H781.0M785.0,280.5H789.0M790.0,280.5H793.0M797.0,280.5H801.0M805.0,280.5H809.0M809.0,280.5H812.0M816.0,280.5H820.0M824.0,280.5H828.0M829.0,280.5H832.0M836.0,280.5H840.0M844.0,280.5H848.0M848.0,280.5H851.0M855.0,280.5H859.0M863.0,280.5H867.0M868.0,280.5H871.0M875.0,280.5H879.0M883.0,280.5H887.0M887.0,280.5H890.0M894.0,280.5H898.0M902.0,280.5H906.0M906.0,280.5H909.0M913.0,280.5H917.0M921.0,280.5H925.0M926.0,280.5H929.0M933.0,280.5H937.0M941.0,280.5H945.0M945.0,280.5H948.0M952.0,280.5H956.0M960.0,280.5H964.0M965.0,280.5H968.0M972.0,280.5H976.0M980.0,280.5H984.0M984.0,280.5H987.0M991.0,280.5H995.0M999.0,280.5H1003.0M1004.0,280.5H1007.0M1011.0,280.5H1015.0M1019.0,280.5H1023.0M1023.0,280.5H1026.0M1030.0,280.5H1034.0M1038.0,280.5H1042.0M1043.0,280.5H1046.0M1050.0,280.5H1054.0M1058.0,280.5H1062.0M1062.0,280.5H1065.0M1069.0,280.5H1073.0M1077.0,280.5H1081.0M1081.0,280.5H1084.0M1088.0,280.5H1092.0M1096.0,280.5H1100.0M1101.0,280.5H1104.0M1108.0,280.5H1112.0M1116.0,280.5H1120.0M1120.0,280.5H1123.0M1127.0,280.5H1131.0M1135.0,280.5H1139.0" stroke="#66b266" fill="none" shape-rendering="crispEdges"/>
<path d="M109.0,368.5H112.0M116.0,368.5H120.0M124.0,368.5H128.0M129.0,368.5H132.0M136.0,368.5H140.0M144.0,368.5H148.0M148.0,368.5H151.0M155.0,368.5H159.0M163.0,368.5H167.0M168.0,368.5H171.0M175.0,368.5H179.0M183.0,368.5H187.0M187.0,368.5H190.0M194.0,368.5H198.0M202.0,368.5H206.0M206.0,368.5H209.0M213.0,368.5H217.0M221.0,368.5H225.0M226.0,368.5H229.0M233.0,368.5H237.0M241.0,368.5H245.0M245.0,368.5H248.0M252.0,368.5H256.0M260.0,368.5H264.0M265.0,368.5H268.0M272.0,368.5H276.0M280.0,368.5H284.0M284.0,368.5H287.0M291.0,368.5H295.0M299.0,368.5H303.0M304.0,368.5H307.0M311.0,368.5H315.0M319.0,368.5H323.0M323.0,368.5H326.0M330.0,368.5H334.0M338.0,368.5H342.0M343.0,368.5H346.0M350.0,368.5H354.0M358.0,368.5H362.0M362.0,368.5H365.0M369.0,368.5H373.0M377.0,368.5H381.0M381.0,368.5H384.0M388.0,368.5H392.0M396.0,368.5H400.0M401.0,368.5H404.0M408.0,368.5H412.0M416.0,368.5H420.0M420.0,368.5H423.0M427.0,368.5H431.0M435.0,368.5H439.0M440.0,368.5H443.0M447.0,368.5H451.0M455.0,368.5H459.0M459.0,368.5H462.0M466.0,368.5H470.0M474.0,368.5H478.0M479.0,368.5H482.0M486.0,368.5H490.0M494.0,368.5H498.0M498.0,368.5H501.0M505.0,368.5H509.0M513.0,368.5H517.0M518.0,368.5H521.0M525.0,368.5H529.0M533.0,368.5H537.0M537.0,368.5H540.0M544.0,368.5H548.0M552.0,368.5H556.0M556.0,368.5H559.0M563.0,368.5H567.0M571.0,368.5H575.0M576.0,368.5H579.0M583.0,368.5H587.0M591.0,368.5H595.0M595.0,368.5H598.0M602.0,368.5H606.0M610.0,368.5H614.0M615.0,368.5H618.0M622.0,368.5H626.0M630.0,368.5H634.0M634.0,368.5H637.0M641.0,368.5H645.0M649.0,368.5H653.0M654.0,368.5H657.0M661.0,368.5H665.0M669.0,368.5H673.0M673.0,368.5H676.0M680.0,368.5H684.0M688.0,368.5H692.0M693.0,368.5H696.0M700.0,368.5H704.0M708.0,368.5H712.0M712.0,368.5H715.0M719.0,368.5H723.0M727.0,368.5H731.0M731.0,368.5H734.0M738.0,368.5H742.0M746.0,368.5H750.0M751.0,368.5H754.0M758.0,368.5H762.0M766.0,368.5H770.0M770.0,368.5H773.0M777.0,368.5H781.0M785.0,368.5H789.0M790.0,368.5H793.0M797.0,368.5H801.0M805.0,368.5H809.0M809.0,368.5H812.0M816.0,368.5H820.0M824.0,368.5H828.0M829.0,368.5H832.0M836.0,368.5H840.0M844.0,368.5H848.0M848.0,368.5H851.0M855.0,368.5H859.0M863.0,368.5H867.0M868.0,368.5H871.0M875.0,368.5H879.0M883.0,368.5H887.0M887.0,368.5H890.0M894.0,368.5H898.0M902.0,368.5H906.0M906.0,368.5H909.0M913.0,368.5H917.0M921.0,368.5H925.0M926.0,368.5H929.0M933.0,368.5H937.0M941.0,368.5H945.0M945.0,368.5H948.0M952.0,368.5H956.0M960.0,368.5H964.0M965.0,368.5H968.0M972.0,368.5H976.0M980.0,368.5H984.0M984.0,368.5H987.0M991.0,368.5H995.0M999.0,368.5H1003.0M1004.0,368.5H1007.0M1011.0,368.5H1015.0M1019.0,368.5H1023.0M1023.0,368.5H1026.0M1030.0,368.5H1034.0M1038.0,368.5H1042.0M1043.0,368.5H1046.0M1050.0,368.5H1054.0M1058.0,368.5H1062.0M1062.0,368.5H1065.0M1069.0,368.5H1073.0M1077.0,368.5H1081.0M1081.0,368.5H1084.0M1088.0,368.5H1092.0M1096.0,368.5H1100.0M1101.0,368.5H1104.0M1108.0,368.5H1112.0M1116.0,368.5H1120.0M1120.0,368.5H1123.0M1127.0,368.5H1131.0M1135.0,368.5H1139.0" stroke="#669966" fill="none" shape-rendering="crispEdges"/>
<path d="M109.50,249.00 L206.50,267.00 L300.00,284.70 L401.50,306.50 L490.00,325.80 L595.50,336.70 L665.00,345.50 L731.50,355.30 L790.50,355.30 L820.00,356.30 L865.00,356.50 L887.50,355.50 L926.50,354.20 L984.50,354.20 L1023.50,352.50 L1055.00,350.30 L1081.50,349.20 L1140.50,347.50" stroke="#ff66ff" fill="none" shape-rendering="crispEdges"/>
<path d="M109.50,373.70 L206.50,357.50 L300.00,346.70 L401.50,335.30 L490.00,326.70 L595.50,317.50 L634.50,313.30 L680.00,312.00 L693.50,311.30 L751.50,307.50 L790.50,308.30 L848.50,314.20 L906.50,314.50 L945.50,316.70 L984.50,319.70 L1023.50,322.00 L1055.00,324.50 L1081.50,325.30 L1120.50,329.50 L1140.50,332.50" stroke="#b266ff" fill="none" shape-rendering="crispEdges"/>
<path d="M109.50,373.70 L129.50,367.50 L148.50,360.50 L187.50,343.30 L206.50,338.30 L245.50,330.80 L300.00,310.80 L345.00,294.20 L401.50,280.80 L423.00,275.80 L459.50,273.30 L490.00,266.30 L518.50,257.50 L537.50,253.30 L556.50,250.30 L595.50,246.20 L615.50,242.80 L634.50,245.80 L654.50,253.30 L680.00,265.50 L690.00,270.00 L712.50,280.30 L731.50,289.20 L751.50,298.70 L770.50,303.30 L780.00,308.70 L790.50,313.70 L809.50,319.20 L848.50,332.50 L868.50,341.00 L887.50,347.50 L906.50,356.20 L926.50,364.20 L945.50,373.30 L965.50,383.30 L984.50,394.20 L1004.50,403.30 L1023.50,407.50 L1043.50,407.50 L1062.50,408.30 L1081.50,408.50 L1101.50,409.70 L1120.50,410.80 L1140.50,412.80" stroke="#6666ff" fill="none" shape-rendering="crispEdges"/>
<g shape-rendering="crispEdges">
<line x1="109.5" y1="343.5" x2="109.5" y2="369.5" stroke="#000"/>
<line x1="107.0" y1="343.5" x2="112.0" y2="343.5" stroke="#000"/>
<line x1="107.0" y1="369.5" x2="112.0" y2="369.5" stroke="#000"/>
<line x1="129.5" y1="340.5" x2="129.5" y2="386.5" stroke="#000"/>
<line x1="127.0" y1="340.5" x2="132.0" y2="340.5" stroke="#000"/>
<line x1="127.0" y1="386.5" x2="132.0" y2="386.5" stroke="#000"/>
<line x1="148.5" y1="316.5" x2="148.5" y2="337.5" stroke="#000"/>
<line x1="146.0" y1="316.5" x2="151.0" y2="316.5" stroke="#000"/>
<line x1="146.0" y1="337.5" x2="151.0" y2="337.5" stroke="#000"/>
<line x1="168.5" y1="284.5" x2="168.5" y2="323.5" stroke="#000"/>
<line x1="166.0" y1="284.5" x2="171.0" y2="284.5" stroke="#000"/>
<line x1="166.0" y1="323.5" x2="171.0" y2="323.5" stroke="#000"/>
<line x1="187.5" y1="212.5" x2="187.5" y2="291.5" stroke="#000"/>
<line x1="185.0" y1="212.5" x2="190.0" y2="212.5" stroke="#000"/>
<line x1="185.0" y1="291.5" x2="190.0" y2="291.5" stroke="#000"/>
<line x1="206.5" y1="232.5" x2="206.5" y2="274.5" stroke="#000"/>
<line x1="204.0" y1="232.5" x2="209.0" y2="232.5" stroke="#000"/>
<line x1="204.0" y1="274.5" x2="209.0" y2="274.5" stroke="#000"/>
<line x1="226.5" y1="256.5" x2="226.5" y2="299.5" stroke="#000"/>
<line x1="224.0" y1="256.5" x2="229.0" y2="256.5" stroke="#000"/>
<line x1="224.0" y1="299.5" x2="229.0" y2="299.5" stroke="#000"/>
<line x1="245.5" y1="249.5" x2="245.5" y2="297.5" stroke="#000"/>
<line x1="243.0" y1="249.5" x2="248.0" y2="249.5" stroke="#000"/>
<line x1="243.0" y1="297.5" x2="248.0" y2="297.5" stroke="#000"/>
<line x1="265.5" y1="201.5" x2="265.5" y2="242.5" stroke="#000"/>
<line x1="263.0" y1="201.5" x2="268.0" y2="201.5" stroke="#000"/>
<line x1="263.0" y1="242.5" x2="268.0" y2="242.5" stroke="#000"/>
<line x1="284.5" y1="173.5" x2="284.5" y2="222.5" stroke="#000"/>
<line x1="282.0" y1="173.5" x2="287.0" y2="173.5" stroke="#000"/>
<line x1="282.0" y1="222.5" x2="287.0" y2="222.5" stroke="#000"/>
<line x1="304.5" y1="202.5" x2="304.5" y2="242.5" stroke="#000"/>
<line x1="302.0" y1="202.5" x2="307.0" y2="202.5" stroke="#000"/>
<line x1="302.0" y1="242.5" x2="307.0" y2="242.5" stroke="#000"/>
<line x1="323.5" y1="200.5" x2="323.5" y2="237.5" stroke="#000"/>
<line x1="321.0" y1="200.5" x2="326.0" y2="200.5" stroke="#000"/>
<line x1="321.0" y1="237.5" x2="326.0" y2="237.5" stroke="#000"/>
<line x1="343.5" y1="205.5" x2="343.5" y2="256.5" stroke="#000"/>
<line x1="341.0" y1="205.5" x2="346.0" y2="205.5" stroke="#000"/>
<line x1="341.0" y1="256.5" x2="346.0" y2="256.5" stroke="#000"/>
<line x1="362.5" y1="146.5" x2="362.5" y2="229.5" stroke="#000"/>
<line x1="360.0" y1="146.5" x2="365.0" y2="146.5" stroke="#000"/>
<line x1="360.0" y1="229.5" x2="365.0" y2="229.5" stroke="#000"/>
<line x1="381.5" y1="206.5" x2="381.5" y2="276.5" stroke="#000"/>
<line x1="379.0" y1="206.5" x2="384.0" y2="206.5" stroke="#000"/>
<line x1="379.0" y1="276.5" x2="384.0" y2="276.5" stroke="#000"/>
<line x1="401.5" y1="240.5" x2="401.5" y2="289.5" stroke="#000"/>
<line x1="399.0" y1="240.5" x2="404.0" y2="240.5" stroke="#000"/>
<line x1="399.0" y1="289.5" x2="404.0" y2="289.5" stroke="#000"/>
<line x1="420.5" y1="252.5" x2="420.5" y2="289.5" stroke="#000"/>
<line x1="418.0" y1="252.5" x2="423.0" y2="252.5" stroke="#000"/>
<line x1="418.0" y1="289.5" x2="423.0" y2="289.5" stroke="#000"/>
<line x1="440.5" y1="252.5" x2="440.5" y2="285.5" stroke="#000"/>
<line x1="438.0" y1="252.5" x2="443.0" y2="252.5" stroke="#000"/>
<line x1="438.0" y1="285.5" x2="443.0" y2="285.5" stroke="#000"/>
<line x1="459.5" y1="229.5" x2="459.5" y2="309.5" stroke="#000"/>
<line x1="457.0" y1="229.5" x2="462.0" y2="229.5" stroke="#000"/>
<line x1="457.0" y1="309.5" x2="462.0" y2="309.5" stroke="#000"/>
<line x1="479.5" y1="257.5" x2="479.5" y2="299.5" stroke="#000"/>
<line x1="477.0" y1="257.5" x2="482.0" y2="257.5" stroke="#000"/>
<line x1="477.0" y1="299.5" x2="482.0" y2="299.5" stroke="#000"/>
<line x1="498.5" y1="238.5" x2="498.5" y2="256.5" stroke="#000"/>
<line x1="496.0" y1="238.5" x2="501.0" y2="238.5" stroke="#000"/>
<line x1="496.0" y1="256.5" x2="501.0" y2="256.5" stroke="#000"/>
<line x1="518.5" y1="208.5" x2="518.5" y2="261.5" stroke="#000"/>
<line x1="516.0" y1="208.5" x2="521.0" y2="208.5" stroke="#000"/>
<line x1="516.0" y1="261.5" x2="521.0" y2="261.5" stroke="#000"/>
<line x1="537.5" y1="173.5" x2="537.5" y2="244.5" stroke="#000"/>
<line x1="535.0" y1="173.5" x2="540.0" y2="173.5" stroke="#000"/>
<line x1="535.0" y1="244.5" x2="540.0" y2="244.5" stroke="#000"/>
<line x1="556.5" y1="213.5" x2="556.5" y2="244.5" stroke="#000"/>
<line x1="554.0" y1="213.5" x2="559.0" y2="213.5" stroke="#000"/>
<line x1="554.0" y1="244.5" x2="559.0" y2="244.5" stroke="#000"/>
<line x1="576.5" y1="218.5" x2="576.5" y2="240.5" stroke="#000"/>
<line x1="574.0" y1="218.5" x2="579.0" y2="218.5" stroke="#000"/>
<line x1="574.0" y1="240.5" x2="579.0" y2="240.5" stroke="#000"/>
<line x1="595.5" y1="201.5" x2="595.5" y2="245.5" stroke="#000"/>
<line x1="593.0" y1="201.5" x2="598.0" y2="201.5" stroke="#000"/>
<line x1="593.0" y1="245.5" x2="598.0" y2="245.5" stroke="#000"/>
<line x1="615.5" y1="198.5" x2="615.5" y2="241.5" stroke="#000"/>
<line x1="613.0" y1="198.5" x2="618.0" y2="198.5" stroke="#000"/>
<line x1="613.0" y1="241.5" x2="618.0" y2="241.5" stroke="#000"/>
<line x1="634.5" y1="237.5" x2="634.5" y2="296.5" stroke="#000"/>
<line x1="632.0" y1="237.5" x2="637.0" y2="237.5" stroke="#000"/>
<line x1="632.0" y1="296.5" x2="637.0" y2="296.5" stroke="#000"/>
<line x1="654.5" y1="285.5" x2="654.5" y2="379.5" stroke="#000"/>
<line x1="652.0" y1="285.5" x2="657.0" y2="285.5" stroke="#000"/>
<line x1="652.0" y1="379.5" x2="657.0" y2="379.5" stroke="#000"/>
<line x1="673.5" y1="357.5" x2="673.5" y2="390.5" stroke="#000"/>
<line x1="671.0" y1="357.5" x2="676.0" y2="357.5" stroke="#000"/>
<line x1="671.0" y1="390.5" x2="676.0" y2="390.5" stroke="#000"/>
<line x1="693.5" y1="367.5" x2="693.5" y2="418.5" stroke="#000"/>
<line x1="691.0" y1="367.5" x2="696.0" y2="367.5" stroke="#000"/>
<line x1="691.0" y1="418.5" x2="696.0" y2="418.5" stroke="#000"/>
<line x1="712.5" y1="392.5" x2="712.5" y2="419.5" stroke="#000"/>
<line x1="710.0" y1="392.5" x2="715.0" y2="392.5" stroke="#000"/>
<line x1="710.0" y1="419.5" x2="715.0" y2="419.5" stroke="#000"/>
<line x1="731.5" y1="368.5" x2="731.5" y2="415.5" stroke="#000"/>
<line x1="729.0" y1="368.5" x2="734.0" y2="368.5" stroke="#000"/>
<line x1="729.0" y1="415.5" x2="734.0" y2="415.5" stroke="#000"/>
<line x1="751.5" y1="390.5" x2="751.5" y2="408.5" stroke="#000"/>
<line x1="749.0" y1="390.5" x2="754.0" y2="390.5" stroke="#000"/>
<line x1="749.0" y1="408.5" x2="754.0" y2="408.5" stroke="#000"/>
<line x1="770.5" y1="381.5" x2="770.5" y2="406.5" stroke="#000"/>
<line x1="768.0" y1="381.5" x2="773.0" y2="381.5" stroke="#000"/>
<line x1="768.0" y1="406.5" x2="773.0" y2="406.5" stroke="#000"/>
<line x1="790.5" y1="388.5" x2="790.5" y2="428.5" stroke="#000"/>
<line x1="788.0" y1="388.5" x2="793.0" y2="388.5" stroke="#000"/>
<line x1="788.0" y1="428.5" x2="793.0" y2="428.5" stroke="#000"/>
<line x1="809.5" y1="419.5" x2="809.5" y2="438.5" stroke="#000"/>
<line x1="807.0" y1="419.5" x2="812.0" y2="419.5" stroke="#000"/>
<line x1="807.0" y1="438.5" x2="812.0" y2="438.5" stroke="#000"/>
<line x1="829.5" y1="426.5" x2="829.5" y2="450.5" stroke="#000"/>
<line x1="827.0" y1="426.5" x2="832.0" y2="426.5" stroke="#000"/>
<line x1="827.0" y1="450.5" x2="832.0" y2="450.5" stroke="#000"/>
<line x1="848.5" y1="419.5" x2="848.5" y2="446.5" stroke="#000"/>
<line x1="846.0" y1="419.5" x2="851.0" y2="419.5" stroke="#000"/>
<line x1="846.0" y1="446.5" x2="851.0" y2="446.5" stroke="#000"/>
<line x1="868.5" y1="400.5" x2="868.5" y2="427.5" stroke="#000"/>
<line x1="866.0" y1="400.5" x2="871.0" y2="400.5" stroke="#000"/>
<line x1="866.0" y1="427.5" x2="871.0" y2="427.5" stroke="#000"/>
<line x1="887.5" y1="372.5" x2="887.5" y2="415.5" stroke="#000"/>
<line x1="885.0" y1="372.5" x2="890.0" y2="372.5" stroke="#000"/>
<line x1="885.0" y1="415.5" x2="890.0" y2="415.5" stroke="#000"/>
<line x1="906.5" y1="368.5" x2="906.5" y2="394.5" stroke="#000"/>
<line x1="904.0" y1="368.5" x2="909.0" y2="368.5" stroke="#000"/>
<line x1="904.0" y1="394.5" x2="909.0" y2="394.5" stroke="#000"/>
<line x1="926.5" y1="369.5" x2="926.5" y2="398.5" stroke="#000"/>
<line x1="924.0" y1="369.5" x2="929.0" y2="369.5" stroke="#000"/>
<line x1="924.0" y1="398.5" x2="929.0" y2="398.5" stroke="#000"/>
<line x1="945.5" y1="381.5" x2="945.5" y2="420.5" stroke="#000"/>
<line x1="943.0" y1="381.5" x2="948.0" y2="381.5" stroke="#000"/>
<line x1="943.0" y1="420.5" x2="948.0" y2="420.5" stroke="#000"/>
<line x1="965.5" y1="412.5" x2="965.5" y2="440.5" stroke="#000"/>
<line x1="963.0" y1="412.5" x2="968.0" y2="412.5" stroke="#000"/>
<line x1="963.0" y1="440.5" x2="968.0" y2="440.5" stroke="#000"/>
<line x1="984.5" y1="394.5" x2="984.5" y2="434.5" stroke="#000"/>
<line x1="982.0" y1="394.5" x2="987.0" y2="394.5" stroke="#000"/>
<line x1="982.0" y1="434.5" x2="987.0" y2="434.5" stroke="#000"/>
<line x1="1004.5" y1="390.5" x2="1004.5" y2="422.5" stroke="#000"/>
<line x1="1002.0" y1="390.5" x2="1007.0" y2="390.5" stroke="#000"/>
<line x1="1002.0" y1="422.5" x2="1007.0" y2="422.5" stroke="#000"/>
<line x1="1023.5" y1="395.5" x2="1023.5" y2="423.5" stroke="#000"/>
<line x1="1021.0" y1="395.5" x2="1026.0" y2="395.5" stroke="#000"/>
<line x1="1021.0" y1="423.5" x2="1026.0" y2="423.5" stroke="#000"/>
<line x1="1043.5" y1="379.5" x2="1043.5" y2="403.5" stroke="#000"/>
<line x1="1041.0" y1="379.5" x2="1046.0" y2="379.5" stroke="#000"/>
<line x1="1041.0" y1="403.5" x2="1046.0" y2="403.5" stroke="#000"/>
<line x1="1062.5" y1="381.5" x2="1062.5" y2="419.5" stroke="#000"/>
<line x1="1060.0" y1="381.5" x2="1065.0" y2="381.5" stroke="#000"/>
<line x1="1060.0" y1="419.5" x2="1065.0" y2="419.5" stroke="#000"/>
<line x1="1081.5" y1="394.5" x2="1081.5" y2="427.5" stroke="#000"/>
<line x1="1079.0" y1="394.5" x2="1084.0" y2="394.5" stroke="#000"/>
<line x1="1079.0" y1="427.5" x2="1084.0" y2="427.5" stroke="#000"/>
<line x1="1101.5" y1="403.5" x2="1101.5" y2="431.5" stroke="#000"/>
<line x1="1099.0" y1="403.5" x2="1104.0" y2="403.5" stroke="#000"/>
<line x1="1099.0" y1="431.5" x2="1104.0" y2="431.5" stroke="#000"/>
<line x1="1120.5" y1="404.5" x2="1120.5" y2="432.5" stroke="#000"/>
<line x1="1118.0" y1="404.5" x2="1123.0" y2="404.5" stroke="#000"/>
<line x1="1118.0" y1="432.5" x2="1123.0" y2="432.5" stroke="#000"/>
<line x1="1140.5" y1="404.5" x2="1140.5" y2="464.5" stroke="#000"/>
<line x1="1138.0" y1="404.5" x2="1143.0" y2="404.5" stroke="#000"/>
<line x1="1138.0" y1="464.5" x2="1143.0" y2="464.5" stroke="#000"/>
</g>
<rect x="108.0" y="344.0" width="3" height="25.5" fill="#ff0000"/>
<rect x="128.0" y="340.5" width="3" height="27.8" fill="#00ff00"/>
<rect x="147.0" y="327.0" width="3" height="9.0" fill="#00ff00"/>
<rect x="167.0" y="292.0" width="3" height="12.7" fill="#00ff00"/>
<rect x="186.0" y="258.0" width="3" height="27.8" fill="#00ff00"/>
<rect x="205.0" y="243.8" width="3" height="21.2" fill="#ff0000"/>
<rect x="225.0" y="265.0" width="3" height="13.8" fill="#ff0000"/>
<rect x="244.0" y="252.8" width="3" height="26.0" fill="#00ff00"/>
<rect x="264.0" y="218.0" width="3" height="23.0" fill="#00ff00"/>
<rect x="283.0" y="213.3" width="3" height="2.5" fill="#ff0000"/>
<rect x="303.0" y="205.0" width="3" height="29.7" fill="#ff0000"/>
<rect x="322.0" y="233.3" width="3" height="4.2" fill="#00ff00"/>
<rect x="342.0" y="213.0" width="3" height="15.8" fill="#ff0000"/>
<rect x="361.0" y="196.2" width="3" height="21.5" fill="#ff0000"/>
<rect x="380.0" y="217.0" width="3" height="51.7" fill="#ff0000"/>
<rect x="400.0" y="254.2" width="3" height="15.5" fill="#00ff00"/>
<rect x="419.0" y="252.5" width="3" height="37.0" fill="#ff0000"/>
<rect x="439.0" y="272.2" width="3" height="2.5" fill="#ff0000"/>
<rect x="458.0" y="245.0" width="3" height="56.7" fill="#ff0000"/>
<rect x="478.0" y="264.2" width="3" height="20.5" fill="#00ff00"/>
<rect x="497.0" y="240.3" width="3" height="15.7" fill="#ff0000"/>
<rect x="517.0" y="212.2" width="3" height="6.5" fill="#ff0000"/>
<rect x="536.0" y="212.2" width="3" height="26.5" fill="#ff0000"/>
<rect x="555.0" y="218.0" width="3" height="19.7" fill="#ff0000"/>
<rect x="575.0" y="225.0" width="3" height="3.8" fill="#ff0000"/>
<rect x="594.0" y="209.2" width="3" height="25.5" fill="#00ff00"/>
<rect x="614.0" y="209.2" width="3" height="27.5" fill="#ff0000"/>
<rect x="633.0" y="244.2" width="3" height="52.1" fill="#ff0000"/>
<rect x="653.0" y="292.2" width="3" height="81.5" fill="#ff0000"/>
<rect x="672.0" y="365.3" width="3" height="16.4" fill="#ff0000"/>
<rect x="692.0" y="369.2" width="3" height="47.8" fill="#ff0000"/>
<rect x="711.0" y="408.0" width="3" height="8.7" fill="#00ff00"/>
<rect x="730.0" y="368.3" width="3" height="40.4" fill="#ff0000"/>
<rect x="750.0" y="399.2" width="3" height="5.5" fill="#00ff00"/>
<rect x="769.0" y="395.0" width="3" height="8.7" fill="#00ff00"/>
<rect x="789.0" y="392.2" width="3" height="35.0" fill="#ff0000"/>
<rect x="808.0" y="424.2" width="3" height="8.3" fill="#ff0000"/>
<rect x="828.0" y="434.2" width="3" height="10.3" fill="#ff0000"/>
<rect x="847.0" y="432.0" width="3" height="8.8" fill="#00ff00"/>
<rect x="867.0" y="408.3" width="3" height="7.5" fill="#00ff00"/>
<rect x="886.0" y="376.2" width="3" height="24.6" fill="#00ff00"/>
<rect x="905.0" y="376.2" width="3" height="4.6" fill="#ff0000"/>
<rect x="925.0" y="372.0" width="3" height="15.8" fill="#ff0000"/>
<rect x="944.0" y="396.2" width="3" height="19.6" fill="#ff0000"/>
<rect x="964.0" y="416.2" width="3" height="8.8" fill="#ff0000"/>
<rect x="983.0" y="420.0" width="3" height="14.7" fill="#00ff00"/>
<rect x="1003.0" y="404.2" width="3" height="6.6" fill="#ff0000"/>
<rect x="1022.0" y="398.3" width="3" height="2.5" fill="#ff0000"/>
<rect x="1042.0" y="387.2" width="3" height="8.6" fill="#00ff00"/>
<rect x="1061.0" y="381.2" width="3" height="13.5" fill="#ff0000"/>
<rect x="1080.0" y="400.3" width="3" height="16.4" fill="#ff0000"/>
<rect x="1100.0" y="403.3" width="3" height="24.2" fill="#ff0000"/>
<rect x="1119.0" y="420.3" width="3" height="8.5" fill="#00ff00"/>
<rect x="1139.0" y="404.3" width="3" height="43.2" fill="#ff0000"/>
<g shape-rendering="crispEdges">
<line x1="100.5" y1="59" x2="100.5" y2="601" stroke="#000"/>
<line x1="98" y1="600.5" x2="1156" y2="600.5" stroke="#000"/>
<line x1="98" y1="65.5" x2="103" y2="65.5" stroke="#000"/>
<line x1="98" y1="131.5" x2="103" y2="131.5" stroke="#000"/>
<line x1="98" y1="198.5" x2="103" y2="198.5" stroke="#000"/>
<line x1="98" y1="265.5" x2="103" y2="265.5" stroke="#000"/>
<line x1="98" y1="332.5" x2="103" y2="332.5" stroke="#000"/>
<line x1="98" y1="399.5" x2="103" y2="399.5" stroke="#000"/>
<line x1="98" y1="466.5" x2="103" y2="466.5" stroke="#000"/>
<line x1="98" y1="533.5" x2="103" y2="533.5" stroke="#000"/>
<line x1="98" y1="600.5" x2="103" y2="600.5" stroke="#000"/>
<line x1="98" y1="98.5" x2="100" y2="98.5" stroke="#f00"/>
<line x1="98" y1="165.5" x2="100" y2="165.5" stroke="#f00"/>
<line x1="98" y1="232.5" x2="100" y2="232.5" stroke="#f00"/>
<line x1="98" y1="299.5" x2="100" y2="299.5" stroke="#f00"/>
<line x1="98" y1="366.5" x2="100" y2="366.5" stroke="#f00"/>
<line x1="98" y1="433.5" x2="100" y2="433.5" stroke="#f00"/>
<line x1="98" y1="500.5" x2="100" y2="500.5" stroke="#f00"/>
<line x1="98" y1="567.5" x2="100" y2="567.5" stroke="#f00"/>
<line x1="109.5" y1="598" x2="109.5" y2="603" stroke="#000"/>
<line x1="129.5" y1="601" x2="129.5" y2="603" stroke="#d0d0d0"/>
<line x1="148.5" y1="601" x2="148.5" y2="603" stroke="#d0d0d0"/>
<line x1="168.5" y1="601" x2="168.5" y2="603" stroke="#d0d0d0"/>
<line x1="187.5" y1="601" x2="187.5" y2="603" stroke="#d0d0d0"/>
<line x1="206.5" y1="598" x2="206.5" y2="603" stroke="#000"/>
<line x1="226.5" y1="601" x2="226.5" y2="603" stroke="#d0d0d0"/>
<line x1="245.5" y1="601" x2="245.5" y2="603" stroke="#d0d0d0"/>
<line x1="265.5" y1="601" x2="265.5" y2="603" stroke="#d0d0d0"/>
<line x1="284.5" y1="601" x2="284.5" y2="603" stroke="#d0d0d0"/>
<line x1="304.5" y1="598" x2="304.5" y2="603" stroke="#000"/>
<line x1="323.5" y1="601" x2="323.5" y2="603" stroke="#d0d0d0"/>
<line x1="343.5" y1="601" x2="343.5" y2="603" stroke="#d0d0d0"/>
<line x1="362.5" y1="601" x2="362.5" y2="603" stroke="#d0d0d0"/>
<line x1="381.5" y1="601" x2="381.5" y2="603" stroke="#d0d0d0"/>
<line x1="401.5" y1="598" x2="401.5" y2="603" stroke="#000"/>
<line x1="420.5" y1="601" x2="420.5" y2="603" stroke="#d0d0d0"/>
<line x1="440.5" y1="601" x2="440.5" y2="603" stroke="#d0d0d0"/>
<line x1="459.5" y1="601" x2="459.5" y2="603" stroke="#d0d0d0"/>
<line x1="479.5" y1="601" x2="479.5" y2="603" stroke="#d0d0d0"/>
<line x1="498.5" y1="598" x2="498.5" y2="603" stroke="#000"/>
<line x1="518.5" y1="601" x2="518.5" y2="603" stroke="#d0d0d0"/>
<line x1="537.5" y1="601" x2="537.5" y2="603" stroke="#d0d0d0"/>
<line x1="556.5" y1="601" x2="556.5" y2="603" stroke="#d0d0d0"/>
<line x1="576.5" y1="601" x2="576.5" y2="603" stroke="#d0d0d0"/>
<line x1="595.5" y1="598" x2="595.5" y2="603" stroke="#000"/>
<line x1="615.5" y1="601" x2="615.5" y2="603" stroke="#d0d0d0"/>
<line x1="634.5" y1="601" x2="634.5" y2="603" stroke="#d0d0d0"/>
<line x1="654.5" y1="601" x2="654.5" y2="603" stroke="#d0d0d0"/>
<line x1="673.5" y1="601" x2="673.5" y2="603" stroke="#d0d0d0"/>
<line x1="693.5" y1="598" x2="693.5" y2="603" stroke="#000"/>
<line x1="712.5" y1="601" x2="712.5" y2="603" stroke="#d0d0d0"/>
<line x1="731.5" y1="601" x2="731.5" y2="603" stroke="#d0d0d0"/>
<line x1="751.5" y1="601" x2="751.5" y2="603" stroke="#d0d0d0"/>
<line x1="770.5" y1="601" x2="770.5" y2="603" stroke="#d0d0d0"/>
<line x1="790.5" y1="598" x2="790.5" y2="603" stroke="#000"/>
<line x1="809.5" y1="601" x2="809.5" y2="603" stroke="#d0d0d0"/>
<line x1="829.5" y1="601" x2="829.5" y2="603" stroke="#d0d0d0"/>
<line x1="848.5" y1="601" x2="848.5" y2="603" stroke="#d0d0d0"/>
<line x1="868.5" y1="601" x2="868.5" y2="603" stroke="#d0d0d0"/>
<line x1="887.5" y1="598" x2="887.5" y2="603" stroke="#000"/>
<line x1="906.5" y1="601" x2="906.5" y2="603" stroke="#d0d0d0"/>
<line x1="926.5" y1="601" x2="926.5" y2="603" stroke="#d0d0d0"/>
<line x1="945.5" y1="601" x2="945.5" y2="603" stroke="#d0d0d0"/>
<line x1="965.5" y1="601" x2="965.5" y2="603" stroke="#d0d0d0"/>
<line x1="984.5" y1="598" x2="984.5" y2="603" stroke="#000"/>
<line x1="1004.5" y1="601" x2="1004.5" y2="603" stroke="#d0d0d0"/>
<line x1="1023.5" y1="601" x2="1023.5" y2="603" stroke="#d0d0d0"/>
<line x1="1043.5" y1="601" x2="1043.5" y2="603" stroke="#d0d0d0"/>
<line x1="1062.5" y1="601" x2="1062.5" y2="603" stroke="#d0d0d0"/>
<line x1="1081.5" y1="598" x2="1081.5" y2="603" stroke="#000"/>
<line x1="1101.5" y1="601" x2="1101.5" y2="603" stroke="#d0d0d0"/>
<line x1="1120.5" y1="601" x2="1120.5" y2="603" stroke="#d0d0d0"/>
<line x1="1140.5" y1="601" x2="1140.5" y2="603" stroke="#d0d0d0"/>
</g>
<path shape-rendering="crispEdges" fill="#000" d="M100,53h1v1h-1z M99,54h3v2h-3z M98,56h5v2h-5z M97,58h7v2h-7z M1155,597h2v7h-2z M1157,598h2v5h-2z M1159,599h2v3h-2z M1161,600h2v1h-2z"/>
<text transform="translate(64.46 68.90) scale(1.0 1)" x="0.19 6.74 13.43 17.03 23.58" y="0" font-size="11.10" fill="#000">13.50</text>
<text transform="translate(64.46 134.90) scale(1.0 1)" x="0.19 6.74 13.43 17.03 23.58" y="0" font-size="11.10" fill="#000">13.00</text>
<text transform="translate(64.46 201.90) scale(1.0 1)" x="0.19 6.74 13.43 17.03 23.58" y="0" font-size="11.10" fill="#000">12.50</text>
<text transform="translate(64.46 268.90) scale(1.0 1)" x="0.19 6.74 13.43 17.03 23.58" y="0" font-size="11.10" fill="#000">12.00</text>
<text transform="translate(64.46 335.90) scale(1.0 1)" x="0.19 6.74 13.43 17.03 23.58" y="0" font-size="11.10" fill="#000">11.50</text>
<text transform="translate(64.46 402.90) scale(1.0 1)" x="0.19 6.74 13.43 17.03 23.58" y="0" font-size="11.10" fill="#000">11.00</text>
<text transform="translate(64.46 469.90) scale(1.0 1)" x="0.19 6.74 13.43 17.03 23.58" y="0" font-size="11.10" fill="#000">10.50</text>
<text transform="translate(64.46 536.90) scale(1.0 1)" x="0.19 6.74 13.43 17.03 23.58" y="0" font-size="11.10" fill="#000">10.00</text>
<text transform="translate(71.01 603.90) scale(1.0 1)" x="0.19 6.88 10.49 17.03" y="0" font-size="11.10" fill="#000">9.50</text>
<text transform="translate(91.24 612.70) scale(1.04 1)" x="0.13 6.56 13.09 16.05 24.88 31.16" y="0" font-size="11.10" fill="#000">17 Mai</text>
<text transform="translate(188.24 612.70) scale(1.04 1)" x="0.13 6.56 13.09 16.05 24.88 31.16" y="0" font-size="11.10" fill="#000">24 Mai</text>
<text transform="translate(286.24 612.70) scale(1.04 1)" x="0.13 6.56 13.09 16.05 24.88 31.16" y="0" font-size="11.10" fill="#000">31 Mai</text>
<text transform="translate(385.12 612.70) scale(1.04 1)" x="0.13 6.66 9.51 14.70 21.13 23.86" y="0" font-size="11.10" fill="#000">7 Juin</text>
<text transform="translate(478.78 612.70) scale(1.04 1)" x="0.13 6.56 13.09 15.94 21.12 27.56 30.29" y="0" font-size="11.10" fill="#000">14 Juin</text>
<text transform="translate(575.78 612.70) scale(1.04 1)" x="0.13 6.56 13.09 15.94 21.12 27.56 30.29" y="0" font-size="11.10" fill="#000">22 Juin</text>
<text transform="translate(673.78 612.70) scale(1.04 1)" x="0.13 6.56 13.09 15.94 21.12 27.56 30.29" y="0" font-size="11.10" fill="#000">29 Juin</text>
<text transform="translate(776.01 612.70) scale(1.04 1)" x="0.13 6.66 9.51 14.70 21.13 23.90" y="0" font-size="11.10" fill="#000">6 Juil</text>
<text transform="translate(869.67 612.70) scale(1.04 1)" x="0.13 6.56 13.09 15.94 21.12 27.56 30.33" y="0" font-size="11.10" fill="#000">13 Juil</text>
<text transform="translate(966.67 612.70) scale(1.04 1)" x="0.13 6.56 13.09 15.94 21.12 27.56 30.33" y="0" font-size="11.10" fill="#000">20 Juil</text>
<text transform="translate(1063.67 612.70) scale(1.04 1)" x="0.13 6.56 13.09 15.94 21.12 27.56 30.33" y="0" font-size="11.10" fill="#000">27 Juil</text>
<text transform="translate(513.93 625.50) scale(1.04 1)" x="-0.05 7.91 14.56 18.09 24.50 28.33 32.61 39.06 45.65 49.18 55.70 62.31 65.36 74.31 80.65 83.55 87.08 93.60 100.13 106.65 113.26 116.61 122.94 129.54 133.06 139.38 145.87 150.17 153.32 160.56 166.92 173.73 177.56 181.08 187.61 194.13 200.66 207.49" y="0" font-size="11.10" fill="#000">Date (du 17 Mai 2017 au 1er Août 2017)</text>
<text transform="translate(59.00 332.50) rotate(-90) translate(-34.38 0) scale(1.04 1)" x="-0.43 7.19 13.55 20.23 24.16 29.87 33.70 37.42 44.52 51.20 55.27 61.95" y="0" font-size="11.10" fill="#000">Cours (Euro)</text>
<text transform="translate(110.00 34.00) scale(1.08 1)" x="1.19 9.39 23.41 37.07 51.56 59.05 73.02 78.74 93.81 107.47 121.64 130.90 151.78 166.93 175.86 183.18 197.59 206.19 219.74 233.65 247.86 253.62 267.53 281.14 295.11 302.43 316.33 330.71 337.61 349.40 363.13 377.65 386.06 398.50 406.73 416.35 422.96 438.93 452.59 466.45 472.57 484.63 500.33 514.06 528.58 537.00 548.66 562.77 569.79 581.58 595.62" y="0" font-size="24.96" fill="#000">Innate Pharma: graphique du cours - AnalyBourse.com</text>
<rect x="551" y="51" width="6" height="6" fill="#000" fill-opacity="0.18"/>
<rect x="550" y="50" width="6" height="6" fill="#cc6666"/>
<text transform="translate(559.20 54.80) scale(1.04 1)" x="-0.24 7.03 13.37 19.67 25.88 32.35 36.80 40.57 44.02" y="0" font-size="11.10" fill="#000">Support 1</text>
<rect x="621" y="51" width="6" height="6" fill="#000" fill-opacity="0.18"/>
<rect x="620" y="50" width="6" height="6" fill="#b86c6c"/>
<text transform="translate(629.20 54.80) scale(1.04 1)" x="-0.24 7.03 13.37 19.67 25.88 32.35 36.80 40.57 44.02" y="0" font-size="11.10" fill="#000">Support 2</text>
<rect x="691" y="51" width="6" height="6" fill="#000" fill-opacity="0.18"/>
<rect x="690" y="50" width="6" height="6" fill="#996666"/>
<text transform="translate(699.20 54.80) scale(1.04 1)" x="-0.24 7.03 13.37 19.67 25.88 32.35 36.80 40.57 44.02" y="0" font-size="11.10" fill="#000">Support 3</text>
<rect x="761" y="51" width="6" height="6" fill="#000" fill-opacity="0.18"/>
<rect x="760" y="50" width="6" height="6" fill="#66cc66"/>
<text transform="translate(769.20 56.80) scale(1.04 1)" x="-0.50 6.95 12.90 18.46 20.94 26.79 30.28 36.51 42.66 47.99 54.32 57.77" y="0" font-size="11.10" fill="#000">Résistance 1</text>
<rect x="845" y="51" width="6" height="6" fill="#000" fill-opacity="0.18"/>
<rect x="844" y="50" width="6" height="6" fill="#66b266"/>
<text transform="translate(853.20 56.80) scale(1.04 1)" x="-0.50 6.95 12.90 18.46 20.94 26.79 30.28 36.51 42.66 47.99 54.32 57.77" y="0" font-size="11.10" fill="#000">Résistance 2</text>
<rect x="929" y="51" width="6" height="6" fill="#000" fill-opacity="0.18"/>
<rect x="928" y="50" width="6" height="6" fill="#669966"/>
<text transform="translate(937.20 56.80) scale(1.04 1)" x="-0.50 6.95 12.90 18.46 20.94 26.79 30.28 36.51 42.66 47.99 54.32 57.77" y="0" font-size="11.10" fill="#000">Résistance 3</text>
<rect x="1013" y="51" width="6" height="6" fill="#000" fill-opacity="0.18"/>
<rect x="1012" y="50" width="6" height="6" fill="#6666ff"/>
<text transform="translate(1021.20 54.80) scale(1.04 1)" x="-0.36 8.16 17.17 23.59" y="0" font-size="11.10" fill="#000">MM20</text>
<rect x="1061" y="51" width="6" height="6" fill="#000" fill-opacity="0.18"/>
<rect x="1060" y="50" width="6" height="6" fill="#b266ff"/>
<text transform="translate(1069.20 54.80) scale(1.04 1)" x="-0.36 8.16 17.17 23.59" y="0" font-size="11.10" fill="#000">MM50</text>
<rect x="1109" y="51" width="6" height="6" fill="#000" fill-opacity="0.18"/>
<rect x="1108" y="50" width="6" height="6" fill="#ff66ff"/>
<text transform="translate(1117.20 54.80) scale(1.04 1)" x="-0.36 8.16 17.17 23.59 30.02" y="0" font-size="11.10" fill="#000">MM100</text>
<rect x="102" y="725" width="1049" height="21" fill="#f9f9f9"/>
<rect x="102" y="768" width="1049" height="22" fill="#f9f9f9"/>
<rect x="102" y="812" width="1049" height="22" fill="#f9f9f9"/>
<rect x="102" y="856" width="1049" height="22" fill="#f9f9f9"/>
<line x1="109.5" y1="724" x2="109.5" y2="900" stroke="#e4e4e4" stroke-dasharray="4 4" shape-rendering="crispEdges"/>
<line x1="129.5" y1="724" x2="129.5" y2="900" stroke="#f5f5f5" stroke-dasharray="6 6" shape-rendering="crispEdges"/>
<line x1="148.5" y1="724" x2="148.5" y2="900" stroke="#f5f5f5" stroke-dasharray="6 6" shape-rendering="crispEdges"/>
<line x1="168.5" y1="724" x2="168.5" y2="900" stroke="#f5f5f5" stroke-dasharray="6 6" shape-rendering="crispEdges"/>
<line x1="187.5" y1="724" x2="187.5" y2="900" stroke="#f5f5f5" stroke-dasharray="6 6" shape-rendering="crispEdges"/>
<line x1="206.5" y1="724" x2="206.5" y2="900" stroke="#e4e4e4" stroke-dasharray="4 4" shape-rendering="crispEdges"/>
<line x1="226.5" y1="724" x2="226.5" y2="900" stroke="#f5f5f5" stroke-dasharray="6 6" shape-rendering="crispEdges"/>
<line x1="245.5" y1="724" x2="245.5" y2="900" stroke="#f5f5f5" stroke-dasharray="6 6" shape-rendering="crispEdges"/>
<line x1="265.5" y1="724" x2="265.5" y2="900" stroke="#f5f5f5" stroke-dasharray="6 6" shape-rendering="crispEdges"/>
<line x1="284.5" y1="724" x2="284.5" y2="900" stroke="#f5f5f5" stroke-dasharray="6 6" shape-rendering="crispEdges"/>
<line x1="304.5" y1="724" x2="304.5" y2="900" stroke="#e4e4e4" stroke-dasharray="4 4" shape-rendering="crispEdges"/>
<line x1="323.5" y1="724" x2="323.5" y2="900" stroke="#f5f5f5" stroke-dasharray="6 6" shape-rendering="crispEdges"/>
<line x1="343.5" y1="724" x2="343.5" y2="900" stroke="#f5f5f5" stroke-dasharray="6 6" shape-rendering="crispEdges"/>
<line x1="362.5" y1="724" x2="362.5" y2="900" stroke="#f5f5f5" stroke-dasharray="6 6" shape-rendering="crispEdges"/>
<line x1="381.5" y1="724" x2="381.5" y2="900" stroke="#f5f5f5" stroke-dasharray="6 6" shape-rendering="crispEdges"/>
<line x1="401.5" y1="724" x2="401.5" y2="900" stroke="#e4e4e4" stroke-dasharray="4 4" shape-rendering="crispEdges"/>
<line x1="420.5" y1="724" x2="420.5" y2="900" stroke="#f5f5f5" stroke-dasharray="6 6" shape-rendering="crispEdges"/>
<line x1="440.5" y1="724" x2="440.5" y2="900" stroke="#f5f5f5" stroke-dasharray="6 6" shape-rendering="crispEdges"/>
<line x1="459.5" y1="724" x2="459.5" y2="900" stroke="#f5f5f5" stroke-dasharray="6 6" shape-rendering="crispEdges"/>
<line x1="479.5" y1="724" x2="479.5" y2="900" stroke="#f5f5f5" stroke-dasharray="6 6" shape-rendering="crispEdges"/>
<line x1="498.5" y1="724" x2="498.5" y2="900" stroke="#e4e4e4" stroke-dasharray="4 4" shape-rendering="crispEdges"/>
<line x1="518.5" y1="724" x2="518.5" y2="900" stroke="#f5f5f5" stroke-dasharray="6 6" shape-rendering="crispEdges"/>
<line x1="537.5" y1="724" x2="537.5" y2="900" stroke="#f5f5f5" stroke-dasharray="6 6" shape-rendering="crispEdges"/>
<line x1="556.5" y1="724" x2="556.5" y2="900" stroke="#f5f5f5" stroke-dasharray="6 6" shape-rendering="crispEdges"/>
<line x1="576.5" y1="724" x2="576.5" y2="900" stroke="#f5f5f5" stroke-dasharray="6 6" shape-rendering="crispEdges"/>
<line x1="595.5" y1="724" x2="595.5" y2="900" stroke="#e4e4e4" stroke-dasharray="4 4" shape-rendering="crispEdges"/>
<line x1="615.5" y1="724" x2="615.5" y2="900" stroke="#f5f5f5" stroke-dasharray="6 6" shape-rendering="crispEdges"/>
<line x1="634.5" y1="724" x2="634.5" y2="900" stroke="#f5f5f5" stroke-dasharray="6 6" shape-rendering="crispEdges"/>
<line x1="654.5" y1="724" x2="654.5" y2="900" stroke="#f5f5f5" stroke-dasharray="6 6" shape-rendering="crispEdges"/>
<line x1="673.5" y1="724" x2="673.5" y2="900" stroke="#f5f5f5" stroke-dasharray="6 6" shape-rendering="crispEdges"/>
<line x1="693.5" y1="724" x2="693.5" y2="900" stroke="#e4e4e4" stroke-dasharray="4 4" shape-rendering="crispEdges"/>
<line x1="712.5" y1="724" x2="712.5" y2="900" stroke="#f5f5f5" stroke-dasharray="6 6" shape-rendering="crispEdges"/>
<line x1="731.5" y1="724" x2="731.5" y2="900" stroke="#f5f5f5" stroke-dasharray="6 6" shape-rendering="crispEdges"/>
<line x1="751.5" y1="724" x2="751.5" y2="900" stroke="#f5f5f5" stroke-dasharray="6 6" shape-rendering="crispEdges"/>
<line x1="770.5" y1="724" x2="770.5" y2="900" stroke="#f5f5f5" stroke-dasharray="6 6" shape-rendering="crispEdges"/>
<line x1="790.5" y1="724" x2="790.5" y2="900" stroke="#e4e4e4" stroke-dasharray="4 4" shape-rendering="crispEdges"/>
<line x1="809.5" y1="724" x2="809.5" y2="900" stroke="#f5f5f5" stroke-dasharray="6 6" shape-rendering="crispEdges"/>
<line x1="829.5" y1="724" x2="829.5" y2="900" stroke="#f5f5f5" stroke-dasharray="6 6" shape-rendering="crispEdges"/>
<line x1="848.5" y1="724" x2="848.5" y2="900" stroke="#f5f5f5" stroke-dasharray="6 6" shape-rendering="crispEdges"/>
<line x1="868.5" y1="724" x2="868.5" y2="900" stroke="#f5f5f5" stroke-dasharray="6 6" shape-rendering="crispEdges"/>
<line x1="887.5" y1="724" x2="887.5" y2="900" stroke="#e4e4e4" stroke-dasharray="4 4" shape-rendering="crispEdges"/>
<line x1="906.5" y1="724" x2="906.5" y2="900" stroke="#f5f5f5" stroke-dasharray="6 6" shape-rendering="crispEdges"/>
<line x1="926.5" y1="724" x2="926.5" y2="900" stroke="#f5f5f5" stroke-dasharray="6 6" shape-rendering="crispEdges"/>
<line x1="945.5" y1="724" x2="945.5" y2="900" stroke="#f5f5f5" stroke-dasharray="6 6" shape-rendering="crispEdges"/>
<line x1="965.5" y1="724" x2="965.5" y2="900" stroke="#f5f5f5" stroke-dasharray="6 6" shape-rendering="crispEdges"/>
<line x1="984.5" y1="724" x2="984.5" y2="900" stroke="#e4e4e4" stroke-dasharray="4 4" shape-rendering="crispEdges"/>
<line x1="1004.5" y1="724" x2="1004.5" y2="900" stroke="#f5f5f5" stroke-dasharray="6 6" shape-rendering="crispEdges"/>
<line x1="1023.5" y1="724" x2="1023.5" y2="900" stroke="#f5f5f5" stroke-dasharray="6 6" shape-rendering="crispEdges"/>
<line x1="1043.5" y1="724" x2="1043.5" y2="900" stroke="#f5f5f5" stroke-dasharray="6 6" shape-rendering="crispEdges"/>
<line x1="1062.5" y1="724" x2="1062.5" y2="900" stroke="#f5f5f5" stroke-dasharray="6 6" shape-rendering="crispEdges"/>
<line x1="1081.5" y1="724" x2="1081.5" y2="900" stroke="#e4e4e4" stroke-dasharray="4 4" shape-rendering="crispEdges"/>
<line x1="1101.5" y1="724" x2="1101.5" y2="900" stroke="#f5f5f5" stroke-dasharray="6 6" shape-rendering="crispEdges"/>
<line x1="1120.5" y1="724" x2="1120.5" y2="900" stroke="#f5f5f5" stroke-dasharray="6 6" shape-rendering="crispEdges"/>
<line x1="1140.5" y1="724" x2="1140.5" y2="900" stroke="#f5f5f5" stroke-dasharray="6 6" shape-rendering="crispEdges"/>
<line x1="107" y1="725.5" x2="1151" y2="725.5" stroke="#e4e4e4" stroke-dasharray="4 4" shape-rendering="crispEdges"/>
<line x1="101" y1="746.5" x2="1151" y2="746.5" stroke="#fff" stroke-opacity="0.75" shape-rendering="crispEdges"/>
<line x1="107" y1="746.5" x2="1151" y2="746.5" stroke="#e4e4e4" stroke-dasharray="4 4" shape-rendering="crispEdges"/>
<line x1="101" y1="768.5" x2="1151" y2="768.5" stroke="#fff" stroke-opacity="0.75" shape-rendering="crispEdges"/>
<line x1="107" y1="768.5" x2="1151" y2="768.5" stroke="#e4e4e4" stroke-dasharray="4 4" shape-rendering="crispEdges"/>
<line x1="101" y1="790.5" x2="1151" y2="790.5" stroke="#fff" stroke-opacity="0.75" shape-rendering="crispEdges"/>
<line x1="107" y1="790.5" x2="1151" y2="790.5" stroke="#e4e4e4" stroke-dasharray="4 4" shape-rendering="crispEdges"/>
<line x1="101" y1="812.5" x2="1151" y2="812.5" stroke="#fff" stroke-opacity="0.75" shape-rendering="crispEdges"/>
<line x1="107" y1="812.5" x2="1151" y2="812.5" stroke="#e4e4e4" stroke-dasharray="4 4" shape-rendering="crispEdges"/>
<line x1="101" y1="834.5" x2="1151" y2="834.5" stroke="#fff" stroke-opacity="0.75" shape-rendering="crispEdges"/>
<line x1="107" y1="834.5" x2="1151" y2="834.5" stroke="#e4e4e4" stroke-dasharray="4 4" shape-rendering="crispEdges"/>
<line x1="101" y1="856.5" x2="1151" y2="856.5" stroke="#fff" stroke-opacity="0.75" shape-rendering="crispEdges"/>
<line x1="107" y1="856.5" x2="1151" y2="856.5" stroke="#e4e4e4" stroke-dasharray="4 4" shape-rendering="crispEdges"/>
<line x1="101" y1="878.5" x2="1151" y2="878.5" stroke="#fff" stroke-opacity="0.75" shape-rendering="crispEdges"/>
<line x1="107" y1="878.5" x2="1151" y2="878.5" stroke="#e4e4e4" stroke-dasharray="4 4" shape-rendering="crispEdges"/>
<g shape-rendering="crispEdges">
<rect x="103" y="858" width="14" height="42" fill="#ff0000" fill-opacity="0.63"/>
<rect x="116" y="858" width="1" height="42" fill="#ff0000" fill-opacity="0.2"/>
<rect x="122" y="862" width="14" height="38" fill="#00ff00" fill-opacity="0.63"/>
<rect x="135" y="862" width="1" height="38" fill="#00ff00" fill-opacity="0.2"/>
<rect x="142" y="862" width="14" height="38" fill="#00ff00" fill-opacity="0.63"/>
<rect x="155" y="862" width="1" height="38" fill="#00ff00" fill-opacity="0.2"/>
<rect x="161" y="803" width="14" height="97" fill="#00ff00" fill-opacity="0.63"/>
<rect x="174" y="803" width="1" height="97" fill="#00ff00" fill-opacity="0.2"/>
<rect x="181" y="768" width="13" height="132" fill="#00ff00" fill-opacity="0.63"/>
<rect x="193" y="768" width="1" height="132" fill="#00ff00" fill-opacity="0.2"/>
<rect x="200" y="852" width="14" height="48" fill="#ff0000" fill-opacity="0.63"/>
<rect x="213" y="852" width="1" height="48" fill="#ff0000" fill-opacity="0.2"/>
<rect x="219" y="859" width="14" height="41" fill="#ff0000" fill-opacity="0.63"/>
<rect x="232" y="859" width="1" height="41" fill="#ff0000" fill-opacity="0.2"/>
<rect x="239" y="857" width="14" height="43" fill="#00ff00" fill-opacity="0.63"/>
<rect x="252" y="857" width="1" height="43" fill="#00ff00" fill-opacity="0.2"/>
<rect x="258" y="839" width="14" height="61" fill="#00ff00" fill-opacity="0.63"/>
<rect x="271" y="839" width="1" height="61" fill="#00ff00" fill-opacity="0.2"/>
<rect x="278" y="820" width="14" height="80" fill="#00ff00" fill-opacity="0.63"/>
<rect x="291" y="820" width="1" height="80" fill="#00ff00" fill-opacity="0.2"/>
<rect x="297" y="833" width="14" height="67" fill="#ff0000" fill-opacity="0.63"/>
<rect x="310" y="833" width="1" height="67" fill="#ff0000" fill-opacity="0.2"/>
<rect x="317" y="855" width="14" height="45" fill="#00ff00" fill-opacity="0.63"/>
<rect x="330" y="855" width="1" height="45" fill="#00ff00" fill-opacity="0.2"/>
<rect x="336" y="843" width="14" height="57" fill="#ff0000" fill-opacity="0.63"/>
<rect x="349" y="843" width="1" height="57" fill="#ff0000" fill-opacity="0.2"/>
<rect x="356" y="764" width="13" height="136" fill="#ff0000" fill-opacity="0.63"/>
<rect x="368" y="764" width="1" height="136" fill="#ff0000" fill-opacity="0.2"/>
<rect x="375" y="800" width="14" height="100" fill="#ff0000" fill-opacity="0.63"/>
<rect x="388" y="800" width="1" height="100" fill="#ff0000" fill-opacity="0.2"/>
<rect x="394" y="851" width="14" height="49" fill="#00ff00" fill-opacity="0.63"/>
<rect x="407" y="851" width="1" height="49" fill="#00ff00" fill-opacity="0.2"/>
<rect x="414" y="847" width="14" height="53" fill="#ff0000" fill-opacity="0.63"/>
<rect x="427" y="847" width="1" height="53" fill="#ff0000" fill-opacity="0.2"/>
<rect x="433" y="867" width="14" height="33" fill="#00ff00" fill-opacity="0.63"/>
<rect x="446" y="867" width="1" height="33" fill="#00ff00" fill-opacity="0.2"/>
<rect x="453" y="817" width="14" height="83" fill="#ff0000" fill-opacity="0.63"/>
<rect x="466" y="817" width="1" height="83" fill="#ff0000" fill-opacity="0.2"/>
<rect x="472" y="852" width="14" height="48" fill="#00ff00" fill-opacity="0.63"/>
<rect x="485" y="852" width="1" height="48" fill="#00ff00" fill-opacity="0.2"/>
<rect x="492" y="865" width="14" height="35" fill="#ff0000" fill-opacity="0.63"/>
<rect x="505" y="865" width="1" height="35" fill="#ff0000" fill-opacity="0.2"/>
<rect x="511" y="737" width="14" height="163" fill="#ff0000" fill-opacity="0.63"/>
<rect x="524" y="737" width="1" height="163" fill="#ff0000" fill-opacity="0.2"/>
<rect x="531" y="802" width="13" height="98" fill="#ff0000" fill-opacity="0.63"/>
<rect x="543" y="802" width="1" height="98" fill="#ff0000" fill-opacity="0.2"/>
<rect x="550" y="863" width="14" height="37" fill="#ff0000" fill-opacity="0.63"/>
<rect x="563" y="863" width="1" height="37" fill="#ff0000" fill-opacity="0.2"/>
<rect x="569" y="874" width="14" height="26" fill="#ff0000" fill-opacity="0.63"/>
<rect x="582" y="874" width="1" height="26" fill="#ff0000" fill-opacity="0.2"/>
<rect x="589" y="831" width="14" height="69" fill="#00ff00" fill-opacity="0.63"/>
<rect x="602" y="831" width="1" height="69" fill="#00ff00" fill-opacity="0.2"/>
<rect x="608" y="863" width="14" height="37" fill="#ff0000" fill-opacity="0.63"/>
<rect x="621" y="863" width="1" height="37" fill="#ff0000" fill-opacity="0.2"/>
<rect x="628" y="806" width="14" height="94" fill="#ff0000" fill-opacity="0.63"/>
<rect x="641" y="806" width="1" height="94" fill="#ff0000" fill-opacity="0.2"/>
<rect x="647" y="780" width="14" height="120" fill="#ff0000" fill-opacity="0.63"/>
<rect x="660" y="780" width="1" height="120" fill="#ff0000" fill-opacity="0.2"/>
<rect x="667" y="822" width="14" height="78" fill="#ff0000" fill-opacity="0.63"/>
<rect x="680" y="822" width="1" height="78" fill="#ff0000" fill-opacity="0.2"/>
<rect x="686" y="797" width="14" height="103" fill="#ff0000" fill-opacity="0.63"/>
<rect x="699" y="797" width="1" height="103" fill="#ff0000" fill-opacity="0.2"/>
<rect x="706" y="836" width="13" height="64" fill="#00ff00" fill-opacity="0.63"/>
<rect x="718" y="836" width="1" height="64" fill="#00ff00" fill-opacity="0.2"/>
<rect x="725" y="840" width="14" height="60" fill="#ff0000" fill-opacity="0.63"/>
<rect x="738" y="840" width="1" height="60" fill="#ff0000" fill-opacity="0.2"/>
<rect x="744" y="876" width="14" height="24" fill="#00ff00" fill-opacity="0.63"/>
<rect x="757" y="876" width="1" height="24" fill="#00ff00" fill-opacity="0.2"/>
<rect x="764" y="857" width="14" height="43" fill="#00ff00" fill-opacity="0.63"/>
<rect x="777" y="857" width="1" height="43" fill="#00ff00" fill-opacity="0.2"/>
<rect x="783" y="856" width="14" height="44" fill="#ff0000" fill-opacity="0.63"/>
<rect x="796" y="856" width="1" height="44" fill="#ff0000" fill-opacity="0.2"/>
<rect x="803" y="866" width="14" height="34" fill="#ff0000" fill-opacity="0.63"/>
<rect x="816" y="866" width="1" height="34" fill="#ff0000" fill-opacity="0.2"/>
<rect x="822" y="863" width="14" height="37" fill="#ff0000" fill-opacity="0.63"/>
<rect x="835" y="863" width="1" height="37" fill="#ff0000" fill-opacity="0.2"/>
<rect x="842" y="872" width="14" height="28" fill="#00ff00" fill-opacity="0.63"/>
<rect x="855" y="872" width="1" height="28" fill="#00ff00" fill-opacity="0.2"/>
<rect x="861" y="865" width="14" height="35" fill="#00ff00" fill-opacity="0.63"/>
<rect x="874" y="865" width="1" height="35" fill="#00ff00" fill-opacity="0.2"/>
<rect x="881" y="860" width="13" height="40" fill="#00ff00" fill-opacity="0.63"/>
<rect x="893" y="860" width="1" height="40" fill="#00ff00" fill-opacity="0.2"/>
<rect x="900" y="872" width="14" height="28" fill="#ff0000" fill-opacity="0.63"/>
<rect x="913" y="872" width="1" height="28" fill="#ff0000" fill-opacity="0.2"/>
<rect x="919" y="859" width="14" height="41" fill="#ff0000" fill-opacity="0.63"/>
<rect x="932" y="859" width="1" height="41" fill="#ff0000" fill-opacity="0.2"/>
<rect x="939" y="866" width="14" height="34" fill="#ff0000" fill-opacity="0.63"/>
<rect x="952" y="866" width="1" height="34" fill="#ff0000" fill-opacity="0.2"/>
<rect x="958" y="866" width="14" height="34" fill="#ff0000" fill-opacity="0.63"/>
<rect x="971" y="866" width="1" height="34" fill="#ff0000" fill-opacity="0.2"/>
<rect x="978" y="863" width="14" height="37" fill="#00ff00" fill-opacity="0.63"/>
<rect x="991" y="863" width="1" height="37" fill="#00ff00" fill-opacity="0.2"/>
<rect x="997" y="869" width="14" height="31" fill="#ff0000" fill-opacity="0.63"/>
<rect x="1010" y="869" width="1" height="31" fill="#ff0000" fill-opacity="0.2"/>
<rect x="1017" y="878" width="14" height="22" fill="#00ff00" fill-opacity="0.63"/>
<rect x="1030" y="878" width="1" height="22" fill="#00ff00" fill-opacity="0.2"/>
<rect x="1036" y="876" width="14" height="24" fill="#00ff00" fill-opacity="0.63"/>
<rect x="1049" y="876" width="1" height="24" fill="#00ff00" fill-opacity="0.2"/>
<rect x="1056" y="869" width="13" height="31" fill="#ff0000" fill-opacity="0.63"/>
<rect x="1068" y="869" width="1" height="31" fill="#ff0000" fill-opacity="0.2"/>
<rect x="1075" y="879" width="14" height="21" fill="#ff0000" fill-opacity="0.63"/>
<rect x="1088" y="879" width="1" height="21" fill="#ff0000" fill-opacity="0.2"/>
<rect x="1094" y="870" width="14" height="30" fill="#ff0000" fill-opacity="0.63"/>
<rect x="1107" y="870" width="1" height="30" fill="#ff0000" fill-opacity="0.2"/>
<rect x="1114" y="884" width="14" height="16" fill="#00ff00" fill-opacity="0.63"/>
<rect x="1127" y="884" width="1" height="16" fill="#00ff00" fill-opacity="0.2"/>
<rect x="1133" y="859" width="14" height="41" fill="#ff0000" fill-opacity="0.63"/>
<rect x="1146" y="859" width="1" height="41" fill="#ff0000" fill-opacity="0.2"/>
</g>
<g shape-rendering="crispEdges">
<line x1="100.5" y1="719" x2="100.5" y2="901" stroke="#000"/>
<line x1="98" y1="900.5" x2="1156" y2="900.5" stroke="#000"/>
<line x1="98" y1="725.5" x2="103" y2="725.5" stroke="#000"/>
<line x1="98" y1="746.5" x2="103" y2="746.5" stroke="#000"/>
<line x1="98" y1="768.5" x2="103" y2="768.5" stroke="#000"/>
<line x1="98" y1="790.5" x2="103" y2="790.5" stroke="#000"/>
<line x1="98" y1="812.5" x2="103" y2="812.5" stroke="#000"/>
<line x1="98" y1="834.5" x2="103" y2="834.5" stroke="#000"/>
<line x1="98" y1="856.5" x2="103" y2="856.5" stroke="#000"/>
<line x1="98" y1="878.5" x2="103" y2="878.5" stroke="#000"/>
<line x1="98" y1="900.5" x2="103" y2="900.5" stroke="#000"/>
<line x1="98" y1="889.5" x2="100" y2="889.5" stroke="#f00"/>
<line x1="98" y1="867.5" x2="100" y2="867.5" stroke="#f00"/>
<line x1="98" y1="845.5" x2="100" y2="845.5" stroke="#f00"/>
<line x1="98" y1="823.5" x2="100" y2="823.5" stroke="#f00"/>
<line x1="98" y1="801.5" x2="100" y2="801.5" stroke="#f00"/>
<line x1="98" y1="779.5" x2="100" y2="779.5" stroke="#f00"/>
<line x1="98" y1="757.5" x2="100" y2="757.5" stroke="#f00"/>
<line x1="98" y1="736.5" x2="100" y2="736.5" stroke="#f00"/>
<line x1="109.5" y1="898" x2="109.5" y2="903" stroke="#000"/>
<line x1="129.5" y1="901" x2="129.5" y2="903" stroke="#d0d0d0"/>
<line x1="148.5" y1="901" x2="148.5" y2="903" stroke="#d0d0d0"/>
<line x1="168.5" y1="901" x2="168.5" y2="903" stroke="#d0d0d0"/>
<line x1="187.5" y1="901" x2="187.5" y2="903" stroke="#d0d0d0"/>
<line x1="206.5" y1="898" x2="206.5" y2="903" stroke="#000"/>
<line x1="226.5" y1="901" x2="226.5" y2="903" stroke="#d0d0d0"/>
<line x1="245.5" y1="901" x2="245.5" y2="903" stroke="#d0d0d0"/>
<line x1="265.5" y1="901" x2="265.5" y2="903" stroke="#d0d0d0"/>
<line x1="284.5" y1="901" x2="284.5" y2="903" stroke="#d0d0d0"/>
<line x1="304.5" y1="898" x2="304.5" y2="903" stroke="#000"/>
<line x1="323.5" y1="901" x2="323.5" y2="903" stroke="#d0d0d0"/>
<line x1="343.5" y1="901" x2="343.5" y2="903" stroke="#d0d0d0"/>
<line x1="362.5" y1="901" x2="362.5" y2="903" stroke="#d0d0d0"/>
<line x1="381.5" y1="901" x2="381.5" y2="903" stroke="#d0d0d0"/>
<line x1="401.5" y1="898" x2="401.5" y2="903" stroke="#000"/>
<line x1="420.5" y1="901" x2="420.5" y2="903" stroke="#d0d0d0"/>
<line x1="440.5" y1="901" x2="440.5" y2="903" stroke="#d0d0d0"/>
<line x1="459.5" y1="901" x2="459.5" y2="903" stroke="#d0d0d0"/>
<line x1="479.5" y1="901" x2="479.5" y2="903" stroke="#d0d0d0"/>
<line x1="498.5" y1="898" x2="498.5" y2="903" stroke="#000"/>
<line x1="518.5" y1="901" x2="518.5" y2="903" stroke="#d0d0d0"/>
<line x1="537.5" y1="901" x2="537.5" y2="903" stroke="#d0d0d0"/>
<line x1="556.5" y1="901" x2="556.5" y2="903" stroke="#d0d0d0"/>
<line x1="576.5" y1="901" x2="576.5" y2="903" stroke="#d0d0d0"/>
<line x1="595.5" y1="898" x2="595.5" y2="903" stroke="#000"/>
<line x1="615.5" y1="901" x2="615.5" y2="903" stroke="#d0d0d0"/>
<line x1="634.5" y1="901" x2="634.5" y2="903" stroke="#d0d0d0"/>
<line x1="654.5" y1="901" x2="654.5" y2="903" stroke="#d0d0d0"/>
<line x1="673.5" y1="901" x2="673.5" y2="903" stroke="#d0d0d0"/>
<line x1="693.5" y1="898" x2="693.5" y2="903" stroke="#000"/>
<line x1="712.5" y1="901" x2="712.5" y2="903" stroke="#d0d0d0"/>
<line x1="731.5" y1="901" x2="731.5" y2="903" stroke="#d0d0d0"/>
<line x1="751.5" y1="901" x2="751.5" y2="903" stroke="#d0d0d0"/>
<line x1="770.5" y1="901" x2="770.5" y2="903" stroke="#d0d0d0"/>
<line x1="790.5" y1="898" x2="790.5" y2="903" stroke="#000"/>
<line x1="809.5" y1="901" x2="809.5" y2="903" stroke="#d0d0d0"/>
<line x1="829.5" y1="901" x2="829.5" y2="903" stroke="#d0d0d0"/>
<line x1="848.5" y1="901" x2="848.5" y2="903" stroke="#d0d0d0"/>
<line x1="868.5" y1="901" x2="868.5" y2="903" stroke="#d0d0d0"/>
<line x1="887.5" y1="898" x2="887.5" y2="903" stroke="#000"/>
<line x1="906.5" y1="901" x2="906.5" y2="903" stroke="#d0d0d0"/>
<line x1="926.5" y1="901" x2="926.5" y2="903" stroke="#d0d0d0"/>
<line x1="945.5" y1="901" x2="945.5" y2="903" stroke="#d0d0d0"/>
<line x1="965.5" y1="901" x2="965.5" y2="903" stroke="#d0d0d0"/>
<line x1="984.5" y1="898" x2="984.5" y2="903" stroke="#000"/>
<line x1="1004.5" y1="901" x2="1004.5" y2="903" stroke="#d0d0d0"/>
<line x1="1023.5" y1="901" x2="1023.5" y2="903" stroke="#d0d0d0"/>
<line x1="1043.5" y1="901" x2="1043.5" y2="903" stroke="#d0d0d0"/>
<line x1="1062.5" y1="901" x2="1062.5" y2="903" stroke="#d0d0d0"/>
<line x1="1081.5" y1="898" x2="1081.5" y2="903" stroke="#000"/>
<line x1="1101.5" y1="901" x2="1101.5" y2="903" stroke="#d0d0d0"/>
<line x1="1120.5" y1="901" x2="1120.5" y2="903" stroke="#d0d0d0"/>
<line x1="1140.5" y1="901" x2="1140.5" y2="903" stroke="#d0d0d0"/>
</g>
<path shape-rendering="crispEdges" fill="#000" d="M100,713h1v1h-1z M99,714h3v2h-3z M98,716h5v2h-5z M97,718h7v2h-7z M1155,897h2v7h-2z M1157,898h2v5h-2z M1159,899h2v3h-2z M1161,900h2v1h-2z"/>
<text transform="translate(34.52 728.30) scale(1.0 1)" x="0.19 6.74 13.29 19.98 23.58 30.13 36.68 43.37 46.98 53.52" y="0" font-size="11.10" fill="#000">800,000.00</text>
<text transform="translate(34.52 749.30) scale(1.0 1)" x="0.19 6.74 13.29 19.98 23.58 30.13 36.68 43.37 46.98 53.52" y="0" font-size="11.10" fill="#000">700,000.00</text>
<text transform="translate(34.52 771.30) scale(1.0 1)" x="0.19 6.74 13.29 19.98 23.58 30.13 36.68 43.37 46.98 53.52" y="0" font-size="11.10" fill="#000">600,000.00</text>
<text transform="translate(34.52 793.30) scale(1.0 1)" x="0.19 6.74 13.29 19.98 23.58 30.13 36.68 43.37 46.98 53.52" y="0" font-size="11.10" fill="#000">500,000.00</text>
<text transform="translate(34.52 815.30) scale(1.0 1)" x="0.19 6.74 13.29 19.98 23.58 30.13 36.68 43.37 46.98 53.52" y="0" font-size="11.10" fill="#000">400,000.00</text>
<text transform="translate(34.52 837.30) scale(1.0 1)" x="0.19 6.74 13.29 19.98 23.58 30.13 36.68 43.37 46.98 53.52" y="0" font-size="11.10" fill="#000">300,000.00</text>
<text transform="translate(34.52 859.30) scale(1.0 1)" x="0.19 6.74 13.29 19.98 23.58 30.13 36.68 43.37 46.98 53.52" y="0" font-size="11.10" fill="#000">200,000.00</text>
<text transform="translate(34.52 881.30) scale(1.0 1)" x="0.19 6.74 13.29 19.98 23.58 30.13 36.68 43.37 46.98 53.52" y="0" font-size="11.10" fill="#000">100,000.00</text>
<text transform="translate(71.01 903.30) scale(1.0 1)" x="0.19 6.88 10.49 17.03" y="0" font-size="11.10" fill="#000">0.00</text>
<text transform="translate(91.24 912.70) scale(1.04 1)" x="0.13 6.56 13.09 16.05 24.88 31.16" y="0" font-size="11.10" fill="#000">17 Mai</text>
<text transform="translate(188.24 912.70) scale(1.04 1)" x="0.13 6.56 13.09 16.05 24.88 31.16" y="0" font-size="11.10" fill="#000">24 Mai</text>
<text transform="translate(286.24 912.70) scale(1.04 1)" x="0.13 6.56 13.09 16.05 24.88 31.16" y="0" font-size="11.10" fill="#000">31 Mai</text>
<text transform="translate(385.12 912.70) scale(1.04 1)" x="0.13 6.66 9.51 14.70 21.13 23.86" y="0" font-size="11.10" fill="#000">7 Juin</text>
<text transform="translate(478.78 912.70) scale(1.04 1)" x="0.13 6.56 13.09 15.94 21.12 27.56 30.29" y="0" font-size="11.10" fill="#000">14 Juin</text>
<text transform="translate(575.78 912.70) scale(1.04 1)" x="0.13 6.56 13.09 15.94 21.12 27.56 30.29" y="0" font-size="11.10" fill="#000">22 Juin</text>
<text transform="translate(673.78 912.70) scale(1.04 1)" x="0.13 6.56 13.09 15.94 21.12 27.56 30.29" y="0" font-size="11.10" fill="#000">29 Juin</text>
<text transform="translate(776.01 912.70) scale(1.04 1)" x="0.13 6.66 9.51 14.70 21.13 23.90" y="0" font-size="11.10" fill="#000">6 Juil</text>
<text transform="translate(869.67 912.70) scale(1.04 1)" x="0.13 6.56 13.09 15.94 21.12 27.56 30.33" y="0" font-size="11.10" fill="#000">13 Juil</text>
<text transform="translate(966.67 912.70) scale(1.04 1)" x="0.13 6.56 13.09 15.94 21.12 27.56 30.33" y="0" font-size="11.10" fill="#000">20 Juil</text>
<text transform="translate(1063.67 912.70) scale(1.04 1)" x="0.13 6.56 13.09 15.94 21.12 27.56 30.33" y="0" font-size="11.10" fill="#000">27 Juil</text>
<text transform="translate(513.93 925.50) scale(1.04 1)" x="-0.05 7.91 14.56 18.09 24.50 28.33 32.61 39.06 45.65 49.18 55.70 62.31 65.36 74.31 80.65 83.55 87.08 93.60 100.13 106.65 113.26 116.61 122.94 129.54 133.06 139.38 145.87 150.17 153.32 160.56 166.92 173.73 177.56 181.08 187.61 194.13 200.66 207.49" y="0" font-size="11.10" fill="#000">Date (du 17 Mai 2017 au 1er Août 2017)</text>
<text transform="translate(30.40 812.50) rotate(-90) translate(-20.10 0) scale(1.04 1)" x="-0.19 7.05 13.42 16.22 22.92 32.50" y="0" font-size="11.10" fill="#000">Volume</text>
<text transform="translate(110.00 694.00) scale(1.08 1)" x="1.19 9.39 23.41 37.07 51.56 59.05 73.02 78.74 93.81 107.47 121.64 130.90 151.78 166.93 175.86 183.18 197.59 206.19 219.74 233.65 247.86 253.62 267.53 281.14 295.11 302.43 316.33 330.71 338.39 350.97 364.89 370.77 385.09 405.92 419.89 428.13 437.74 444.35 460.32 473.98 487.84 493.96 506.02 521.72 535.45 549.98 558.39 570.05 584.16 591.18 602.97 617.01" y="0" font-size="24.96" fill="#000">Innate Pharma: graphique du volume - AnalyBourse.com</text>
<rect x="102" y="1060" width="1049" height="35" fill="#f9f9f9"/>
<rect x="102" y="1130" width="1049" height="35" fill="#f9f9f9"/>
<line x1="109.5" y1="1024" x2="109.5" y2="1200" stroke="#e4e4e4" stroke-dasharray="4 4" shape-rendering="crispEdges"/>
<line x1="129.5" y1="1024" x2="129.5" y2="1200" stroke="#f5f5f5" stroke-dasharray="6 6" shape-rendering="crispEdges"/>
<line x1="148.5" y1="1024" x2="148.5" y2="1200" stroke="#f5f5f5" stroke-dasharray="6 6" shape-rendering="crispEdges"/>
<line x1="168.5" y1="1024" x2="168.5" y2="1200" stroke="#f5f5f5" stroke-dasharray="6 6" shape-rendering="crispEdges"/>
<line x1="187.5" y1="1024" x2="187.5" y2="1200" stroke="#f5f5f5" stroke-dasharray="6 6" shape-rendering="crispEdges"/>
<line x1="206.5" y1="1024" x2="206.5" y2="1200" stroke="#e4e4e4" stroke-dasharray="4 4" shape-rendering="crispEdges"/>
<line x1="226.5" y1="1024" x2="226.5" y2="1200" stroke="#f5f5f5" stroke-dasharray="6 6" shape-rendering="crispEdges"/>
<line x1="245.5" y1="1024" x2="245.5" y2="1200" stroke="#f5f5f5" stroke-dasharray="6 6" shape-rendering="crispEdges"/>
<line x1="265.5" y1="1024" x2="265.5" y2="1200" stroke="#f5f5f5" stroke-dasharray="6 6" shape-rendering="crispEdges"/>
<line x1="284.5" y1="1024" x2="284.5" y2="1200" stroke="#f5f5f5" stroke-dasharray="6 6" shape-rendering="crispEdges"/>
<line x1="304.5" y1="1024" x2="304.5" y2="1200" stroke="#e4e4e4" stroke-dasharray="4 4" shape-rendering="crispEdges"/>
<line x1="323.5" y1="1024" x2="323.5" y2="1200" stroke="#f5f5f5" stroke-dasharray="6 6" shape-rendering="crispEdges"/>
<line x1="343.5" y1="1024" x2="343.5" y2="1200" stroke="#f5f5f5" stroke-dasharray="6 6" shape-rendering="crispEdges"/>
<line x1="362.5" y1="1024" x2="362.5" y2="1200" stroke="#f5f5f5" stroke-dasharray="6 6" shape-rendering="crispEdges"/>
<line x1="381.5" y1="1024" x2="381.5" y2="1200" stroke="#f5f5f5" stroke-dasharray="6 6" shape-rendering="crispEdges"/>
<line x1="401.5" y1="1024" x2="401.5" y2="1200" stroke="#e4e4e4" stroke-dasharray="4 4" shape-rendering="crispEdges"/>
<line x1="420.5" y1="1024" x2="420.5" y2="1200" stroke="#f5f5f5" stroke-dasharray="6 6" shape-rendering="crispEdges"/>
<line x1="440.5" y1="1024" x2="440.5" y2="1200" stroke="#f5f5f5" stroke-dasharray="6 6" shape-rendering="crispEdges"/>
<line x1="459.5" y1="1024" x2="459.5" y2="1200" stroke="#f5f5f5" stroke-dasharray="6 6" shape-rendering="crispEdges"/>
<line x1="479.5" y1="1024" x2="479.5" y2="1200" stroke="#f5f5f5" stroke-dasharray="6 6" shape-rendering="crispEdges"/>
<line x1="498.5" y1="1024" x2="498.5" y2="1200" stroke="#e4e4e4" stroke-dasharray="4 4" shape-rendering="crispEdges"/>
<line x1="518.5" y1="1024" x2="518.5" y2="1200" stroke="#f5f5f5" stroke-dasharray="6 6" shape-rendering="crispEdges"/>
<line x1="537.5" y1="1024" x2="537.5" y2="1200" stroke="#f5f5f5" stroke-dasharray="6 6" shape-rendering="crispEdges"/>
<line x1="556.5" y1="1024" x2="556.5" y2="1200" stroke="#f5f5f5" stroke-dasharray="6 6" shape-rendering="crispEdges"/>
<line x1="576.5" y1="1024" x2="576.5" y2="1200" stroke="#f5f5f5" stroke-dasharray="6 6" shape-rendering="crispEdges"/>
<line x1="595.5" y1="1024" x2="595.5" y2="1200" stroke="#e4e4e4" stroke-dasharray="4 4" shape-rendering="crispEdges"/>
<line x1="615.5" y1="1024" x2="615.5" y2="1200" stroke="#f5f5f5" stroke-dasharray="6 6" shape-rendering="crispEdges"/>
<line x1="634.5" y1="1024" x2="634.5" y2="1200" stroke="#f5f5f5" stroke-dasharray="6 6" shape-rendering="crispEdges"/>
<line x1="654.5" y1="1024" x2="654.5" y2="1200" stroke="#f5f5f5" stroke-dasharray="6 6" shape-rendering="crispEdges"/>
<line x1="673.5" y1="1024" x2="673.5" y2="1200" stroke="#f5f5f5" stroke-dasharray="6 6" shape-rendering="crispEdges"/>
<line x1="693.5" y1="1024" x2="693.5" y2="1200" stroke="#e4e4e4" stroke-dasharray="4 4" shape-rendering="crispEdges"/>
<line x1="712.5" y1="1024" x2="712.5" y2="1200" stroke="#f5f5f5" stroke-dasharray="6 6" shape-rendering="crispEdges"/>
<line x1="731.5" y1="1024" x2="731.5" y2="1200" stroke="#f5f5f5" stroke-dasharray="6 6" shape-rendering="crispEdges"/>
<line x1="751.5" y1="1024" x2="751.5" y2="1200" stroke="#f5f5f5" stroke-dasharray="6 6" shape-rendering="crispEdges"/>
<line x1="770.5" y1="1024" x2="770.5" y2="1200" stroke="#f5f5f5" stroke-dasharray="6 6" shape-rendering="crispEdges"/>
<line x1="790.5" y1="1024" x2="790.5" y2="1200" stroke="#e4e4e4" stroke-dasharray="4 4" shape-rendering="crispEdges"/>
<line x1="809.5" y1="1024" x2="809.5" y2="1200" stroke="#f5f5f5" stroke-dasharray="6 6" shape-rendering="crispEdges"/>
<line x1="829.5" y1="1024" x2="829.5" y2="1200" stroke="#f5f5f5" stroke-dasharray="6 6" shape-rendering="crispEdges"/>
<line x1="848.5" y1="1024" x2="848.5" y2="1200" stroke="#f5f5f5" stroke-dasharray="6 6" shape-rendering="crispEdges"/>
<line x1="868.5" y1="1024" x2="868.5" y2="1200" stroke="#f5f5f5" stroke-dasharray="6 6" shape-rendering="crispEdges"/>
<line x1="887.5" y1="1024" x2="887.5" y2="1200" stroke="#e4e4e4" stroke-dasharray="4 4" shape-rendering="crispEdges"/>
<line x1="906.5" y1="1024" x2="906.5" y2="1200" stroke="#f5f5f5" stroke-dasharray="6 6" shape-rendering="crispEdges"/>
<line x1="926.5" y1="1024" x2="926.5" y2="1200" stroke="#f5f5f5" stroke-dasharray="6 6" shape-rendering="crispEdges"/>
<line x1="945.5" y1="1024" x2="945.5" y2="1200" stroke="#f5f5f5" stroke-dasharray="6 6" shape-rendering="crispEdges"/>
<line x1="965.5" y1="1024" x2="965.5" y2="1200" stroke="#f5f5f5" stroke-dasharray="6 6" shape-rendering="crispEdges"/>
<line x1="984.5" y1="1024" x2="984.5" y2="1200" stroke="#e4e4e4" stroke-dasharray="4 4" shape-rendering="crispEdges"/>
<line x1="1004.5" y1="1024" x2="1004.5" y2="1200" stroke="#f5f5f5" stroke-dasharray="6 6" shape-rendering="crispEdges"/>
<line x1="1023.5" y1="1024" x2="1023.5" y2="1200" stroke="#f5f5f5" stroke-dasharray="6 6" shape-rendering="crispEdges"/>
<line x1="1043.5" y1="1024" x2="1043.5" y2="1200" stroke="#f5f5f5" stroke-dasharray="6 6" shape-rendering="crispEdges"/>
<line x1="1062.5" y1="1024" x2="1062.5" y2="1200" stroke="#f5f5f5" stroke-dasharray="6 6" shape-rendering="crispEdges"/>
<line x1="1081.5" y1="1024" x2="1081.5" y2="1200" stroke="#e4e4e4" stroke-dasharray="4 4" shape-rendering="crispEdges"/>
<line x1="1101.5" y1="1024" x2="1101.5" y2="1200" stroke="#f5f5f5" stroke-dasharray="6 6" shape-rendering="crispEdges"/>
<line x1="1120.5" y1="1024" x2="1120.5" y2="1200" stroke="#f5f5f5" stroke-dasharray="6 6" shape-rendering="crispEdges"/>
<line x1="1140.5" y1="1024" x2="1140.5" y2="1200" stroke="#f5f5f5" stroke-dasharray="6 6" shape-rendering="crispEdges"/>
<line x1="107" y1="1025.5" x2="1151" y2="1025.5" stroke="#e4e4e4" stroke-dasharray="4 4" shape-rendering="crispEdges"/>
<line x1="101" y1="1060.5" x2="1151" y2="1060.5" stroke="#fff" stroke-opacity="0.75" shape-rendering="crispEdges"/>
<line x1="107" y1="1060.5" x2="1151" y2="1060.5" stroke="#e4e4e4" stroke-dasharray="4 4" shape-rendering="crispEdges"/>
<line x1="101" y1="1095.5" x2="1151" y2="1095.5" stroke="#fff" stroke-opacity="0.75" shape-rendering="crispEdges"/>
<line x1="107" y1="1095.5" x2="1151" y2="1095.5" stroke="#e4e4e4" stroke-dasharray="4 4" shape-rendering="crispEdges"/>
<line x1="101" y1="1130.5" x2="1151" y2="1130.5" stroke="#fff" stroke-opacity="0.75" shape-rendering="crispEdges"/>
<line x1="107" y1="1130.5" x2="1151" y2="1130.5" stroke="#e4e4e4" stroke-dasharray="4 4" shape-rendering="crispEdges"/>
<line x1="101" y1="1165.5" x2="1151" y2="1165.5" stroke="#fff" stroke-opacity="0.75" shape-rendering="crispEdges"/>
<line x1="107" y1="1165.5" x2="1151" y2="1165.5" stroke="#e4e4e4" stroke-dasharray="4 4" shape-rendering="crispEdges"/>
<line x1="109.5" y1="1112.5" x2="1140.5" y2="1112.5" stroke="#666" shape-rendering="crispEdges"/>
<path d="M109.50,1114.50 C112.83,1113.13 123.00,1108.30 129.50,1106.30 C136.00,1104.30 142.00,1104.59 148.50,1102.50 C155.00,1100.41 162.00,1096.46 168.50,1093.75 C175.00,1091.04 181.17,1087.21 187.50,1086.25 C193.83,1085.29 200.00,1086.83 206.50,1088.00 C213.00,1089.17 220.00,1093.21 226.50,1093.25 C233.00,1093.29 239.00,1090.38 245.50,1088.25 C252.00,1086.12 259.00,1081.88 265.50,1080.50 C272.00,1079.12 278.00,1078.75 284.50,1080.00 C291.00,1081.25 298.00,1086.62 304.50,1088.00 C311.00,1089.38 317.00,1088.54 323.50,1088.25 C330.00,1087.96 337.00,1087.00 343.50,1086.25 C350.00,1085.50 356.17,1080.71 362.50,1083.75 C368.83,1086.79 375.00,1101.58 381.50,1104.50 C388.00,1107.42 395.00,1100.00 401.50,1101.25 C408.00,1102.50 414.00,1111.04 420.50,1112.00 C427.00,1112.96 434.00,1106.25 440.50,1107.00 C447.00,1107.75 453.00,1116.75 459.50,1116.50 C466.00,1116.25 473.00,1107.62 479.50,1105.50 C486.00,1103.38 492.00,1105.62 498.50,1103.75 C505.00,1101.88 512.00,1094.88 518.50,1094.25 C525.00,1093.62 531.17,1099.04 537.50,1100.00 C543.83,1100.96 550.00,1100.29 556.50,1100.00 C563.00,1099.71 570.00,1099.42 576.50,1098.25 C583.00,1097.08 589.00,1092.50 595.50,1093.00 C602.00,1093.50 609.00,1096.88 615.50,1101.25 C622.00,1105.62 628.00,1113.21 634.50,1119.25 C641.00,1125.29 648.00,1134.29 654.50,1137.50 C661.00,1140.71 667.00,1137.38 673.50,1138.50 C680.00,1139.62 687.00,1143.79 693.50,1144.25 C700.00,1144.71 706.17,1141.75 712.50,1141.25 C718.83,1140.75 725.00,1141.75 731.50,1141.25 C738.00,1140.75 745.00,1139.04 751.50,1138.25 C758.00,1137.46 764.00,1135.67 770.50,1136.50 C777.00,1137.33 784.00,1141.92 790.50,1143.25 C797.00,1144.58 803.00,1143.96 809.50,1144.50 C816.00,1145.04 823.00,1147.04 829.50,1146.50 C836.00,1145.96 842.00,1143.67 848.50,1141.25 C855.00,1138.83 862.00,1135.62 868.50,1132.00 C875.00,1128.38 881.17,1121.50 887.50,1119.50 C893.83,1117.50 900.00,1119.58 906.50,1120.00 C913.00,1120.42 920.00,1120.29 926.50,1122.00 C933.00,1123.71 939.00,1128.33 945.50,1130.25 C952.00,1132.17 959.00,1133.33 965.50,1133.50 C972.00,1133.67 978.00,1132.42 984.50,1131.25 C991.00,1130.08 998.00,1127.88 1004.50,1126.50 C1011.00,1125.12 1017.00,1124.62 1023.50,1123.00 C1030.00,1121.38 1037.00,1117.46 1043.50,1116.75 C1050.00,1116.04 1056.17,1117.04 1062.50,1118.75 C1068.83,1120.46 1075.00,1124.92 1081.50,1127.00 C1088.00,1129.08 1095.00,1131.25 1101.50,1131.25 C1108.00,1131.25 1114.00,1126.04 1120.50,1127.00 C1127.00,1127.96 1137.17,1135.33 1140.50,1137.00" stroke="#ff4444" fill="none" shape-rendering="crispEdges"/>
<g shape-rendering="crispEdges">
<line x1="100.5" y1="1019" x2="100.5" y2="1201" stroke="#000"/>
<line x1="98" y1="1200.5" x2="1156" y2="1200.5" stroke="#000"/>
<line x1="98" y1="1025.5" x2="103" y2="1025.5" stroke="#000"/>
<line x1="98" y1="1060.5" x2="103" y2="1060.5" stroke="#000"/>
<line x1="98" y1="1095.5" x2="103" y2="1095.5" stroke="#000"/>
<line x1="98" y1="1130.5" x2="103" y2="1130.5" stroke="#000"/>
<line x1="98" y1="1165.5" x2="103" y2="1165.5" stroke="#000"/>
<line x1="98" y1="1200.5" x2="103" y2="1200.5" stroke="#000"/>
<line x1="98" y1="1043.5" x2="100" y2="1043.5" stroke="#f00"/>
<line x1="98" y1="1078.5" x2="100" y2="1078.5" stroke="#f00"/>
<line x1="98" y1="1113.5" x2="100" y2="1113.5" stroke="#f00"/>
<line x1="98" y1="1148.5" x2="100" y2="1148.5" stroke="#f00"/>
<line x1="98" y1="1183.5" x2="100" y2="1183.5" stroke="#f00"/>
<line x1="109.5" y1="1198" x2="109.5" y2="1203" stroke="#000"/>
<line x1="129.5" y1="1201" x2="129.5" y2="1203" stroke="#d0d0d0"/>
<line x1="148.5" y1="1201" x2="148.5" y2="1203" stroke="#d0d0d0"/>
<line x1="168.5" y1="1201" x2="168.5" y2="1203" stroke="#d0d0d0"/>
<line x1="187.5" y1="1201" x2="187.5" y2="1203" stroke="#d0d0d0"/>
<line x1="206.5" y1="1198" x2="206.5" y2="1203" stroke="#000"/>
<line x1="226.5" y1="1201" x2="226.5" y2="1203" stroke="#d0d0d0"/>
<line x1="245.5" y1="1201" x2="245.5" y2="1203" stroke="#d0d0d0"/>
<line x1="265.5" y1="1201" x2="265.5" y2="1203" stroke="#d0d0d0"/>
<line x1="284.5" y1="1201" x2="284.5" y2="1203" stroke="#d0d0d0"/>
<line x1="304.5" y1="1198" x2="304.5" y2="1203" stroke="#000"/>
<line x1="323.5" y1="1201" x2="323.5" y2="1203" stroke="#d0d0d0"/>
<line x1="343.5" y1="1201" x2="343.5" y2="1203" stroke="#d0d0d0"/>
<line x1="362.5" y1="1201" x2="362.5" y2="1203" stroke="#d0d0d0"/>
<line x1="381.5" y1="1201" x2="381.5" y2="1203" stroke="#d0d0d0"/>
<line x1="401.5" y1="1198" x2="401.5" y2="1203" stroke="#000"/>
<line x1="420.5" y1="1201" x2="420.5" y2="1203" stroke="#d0d0d0"/>
<line x1="440.5" y1="1201" x2="440.5" y2="1203" stroke="#d0d0d0"/>
<line x1="459.5" y1="1201" x2="459.5" y2="1203" stroke="#d0d0d0"/>
<line x1="479.5" y1="1201" x2="479.5" y2="1203" stroke="#d0d0d0"/>
<line x1="498.5" y1="1198" x2="498.5" y2="1203" stroke="#000"/>
<line x1="518.5" y1="1201" x2="518.5" y2="1203" stroke="#d0d0d0"/>
<line x1="537.5" y1="1201" x2="537.5" y2="1203" stroke="#d0d0d0"/>
<line x1="556.5" y1="1201" x2="556.5" y2="1203" stroke="#d0d0d0"/>
<line x1="576.5" y1="1201" x2="576.5" y2="1203" stroke="#d0d0d0"/>
<line x1="595.5" y1="1198" x2="595.5" y2="1203" stroke="#000"/>
<line x1="615.5" y1="1201" x2="615.5" y2="1203" stroke="#d0d0d0"/>
<line x1="634.5" y1="1201" x2="634.5" y2="1203" stroke="#d0d0d0"/>
<line x1="654.5" y1="1201" x2="654.5" y2="1203" stroke="#d0d0d0"/>
<line x1="673.5" y1="1201" x2="673.5" y2="1203" stroke="#d0d0d0"/>
<line x1="693.5" y1="1198" x2="693.5" y2="1203" stroke="#000"/>
<line x1="712.5" y1="1201" x2="712.5" y2="1203" stroke="#d0d0d0"/>
<line x1="731.5" y1="1201" x2="731.5" y2="1203" stroke="#d0d0d0"/>
<line x1="751.5" y1="1201" x2="751.5" y2="1203" stroke="#d0d0d0"/>
<line x1="770.5" y1="1201" x2="770.5" y2="1203" stroke="#d0d0d0"/>
<line x1="790.5" y1="1198" x2="790.5" y2="1203" stroke="#000"/>
<line x1="809.5" y1="1201" x2="809.5" y2="1203" stroke="#d0d0d0"/>
<line x1="829.5" y1="1201" x2="829.5" y2="1203" stroke="#d0d0d0"/>
<line x1="848.5" y1="1201" x2="848.5" y2="1203" stroke="#d0d0d0"/>
<line x1="868.5" y1="1201" x2="868.5" y2="1203" stroke="#d0d0d0"/>
<line x1="887.5" y1="1198" x2="887.5" y2="1203" stroke="#000"/>
<line x1="906.5" y1="1201" x2="906.5" y2="1203" stroke="#d0d0d0"/>
<line x1="926.5" y1="1201" x2="926.5" y2="1203" stroke="#d0d0d0"/>
<line x1="945.5" y1="1201" x2="945.5" y2="1203" stroke="#d0d0d0"/>
<line x1="965.5" y1="1201" x2="965.5" y2="1203" stroke="#d0d0d0"/>
<line x1="984.5" y1="1198" x2="984.5" y2="1203" stroke="#000"/>
<line x1="1004.5" y1="1201" x2="1004.5" y2="1203" stroke="#d0d0d0"/>
<line x1="1023.5" y1="1201" x2="1023.5" y2="1203" stroke="#d0d0d0"/>
<line x1="1043.5" y1="1201" x2="1043.5" y2="1203" stroke="#d0d0d0"/>
<line x1="1062.5" y1="1201" x2="1062.5" y2="1203" stroke="#d0d0d0"/>
<line x1="1081.5" y1="1198" x2="1081.5" y2="1203" stroke="#000"/>
<line x1="1101.5" y1="1201" x2="1101.5" y2="1203" stroke="#d0d0d0"/>
<line x1="1120.5" y1="1201" x2="1120.5" y2="1203" stroke="#d0d0d0"/>
<line x1="1140.5" y1="1201" x2="1140.5" y2="1203" stroke="#d0d0d0"/>
</g>
<path shape-rendering="crispEdges" fill="#000" d="M100,1013h1v1h-1z M99,1014h3v2h-3z M98,1016h5v2h-5z M97,1018h7v2h-7z M1155,1197h2v7h-2z M1157,1198h2v5h-2z M1159,1199h2v3h-2z M1161,1200h2v1h-2z"/>
<text transform="translate(57.91 1028.90) scale(1.0 1)" x="0.19 6.74 13.29 19.98 23.58 30.13" y="0" font-size="11.10" fill="#000">100.00</text>
<text transform="translate(64.46 1063.90) scale(1.0 1)" x="0.19 6.74 13.43 17.03 23.58" y="0" font-size="11.10" fill="#000">80.00</text>
<text transform="translate(64.46 1098.90) scale(1.0 1)" x="0.19 6.74 13.43 17.03 23.58" y="0" font-size="11.10" fill="#000">60.00</text>
<text transform="translate(64.46 1133.90) scale(1.0 1)" x="0.19 6.74 13.43 17.03 23.58" y="0" font-size="11.10" fill="#000">40.00</text>
<text transform="translate(64.46 1168.90) scale(1.0 1)" x="0.19 6.74 13.43 17.03 23.58" y="0" font-size="11.10" fill="#000">20.00</text>
<text transform="translate(71.01 1203.90) scale(1.0 1)" x="0.19 6.88 10.49 17.03" y="0" font-size="11.10" fill="#000">0.00</text>
<text transform="translate(91.24 1212.70) scale(1.04 1)" x="0.13 6.56 13.09 16.05 24.88 31.16" y="0" font-size="11.10" fill="#000">17 Mai</text>
<text transform="translate(188.24 1212.70) scale(1.04 1)" x="0.13 6.56 13.09 16.05 24.88 31.16" y="0" font-size="11.10" fill="#000">24 Mai</text>
<text transform="translate(286.24 1212.70) scale(1.04 1)" x="0.13 6.56 13.09 16.05 24.88 31.16" y="0" font-size="11.10" fill="#000">31 Mai</text>
<text transform="translate(385.12 1212.70) scale(1.04 1)" x="0.13 6.66 9.51 14.70 21.13 23.86" y="0" font-size="11.10" fill="#000">7 Juin</text>
<text transform="translate(478.78 1212.70) scale(1.04 1)" x="0.13 6.56 13.09 15.94 21.12 27.56 30.29" y="0" font-size="11.10" fill="#000">14 Juin</text>
<text transform="translate(575.78 1212.70) scale(1.04 1)" x="0.13 6.56 13.09 15.94 21.12 27.56 30.29" y="0" font-size="11.10" fill="#000">22 Juin</text>
<text transform="translate(673.78 1212.70) scale(1.04 1)" x="0.13 6.56 13.09 15.94 21.12 27.56 30.29" y="0" font-size="11.10" fill="#000">29 Juin</text>
<text transform="translate(776.01 1212.70) scale(1.04 1)" x="0.13 6.66 9.51 14.70 21.13 23.90" y="0" font-size="11.10" fill="#000">6 Juil</text>
<text transform="translate(869.67 1212.70) scale(1.04 1)" x="0.13 6.56 13.09 15.94 21.12 27.56 30.33" y="0" font-size="11.10" fill="#000">13 Juil</text>
<text transform="translate(966.67 1212.70) scale(1.04 1)" x="0.13 6.56 13.09 15.94 21.12 27.56 30.33" y="0" font-size="11.10" fill="#000">20 Juil</text>
<text transform="translate(1063.67 1212.70) scale(1.04 1)" x="0.13 6.56 13.09 15.94 21.12 27.56 30.33" y="0" font-size="11.10" fill="#000">27 Juil</text>
<text transform="translate(513.93 1225.50) scale(1.04 1)" x="-0.05 7.91 14.56 18.09 24.50 28.33 32.61 39.06 45.65 49.18 55.70 62.31 65.36 74.31 80.65 83.55 87.08 93.60 100.13 106.65 113.26 116.61 122.94 129.54 133.06 139.38 145.87 150.17 153.32 160.56 166.92 173.73 177.56 181.08 187.61 194.13 200.66 207.49" y="0" font-size="11.10" fill="#000">Date (du 17 Mai 2017 au 1er Août 2017)</text>
<text transform="translate(55.00 1112.50) rotate(-90) translate(-9.60 0) scale(1.04 1)" x="-0.44 6.94 14.77" y="0" font-size="11.10" fill="#000">RSI</text>
<text transform="translate(110.00 994.00) scale(1.08 1)" x="1.19 9.39 23.41 37.07 51.56 59.05 73.02 78.74 93.81 107.47 121.64 130.90 151.78 166.93 175.86 183.18 197.59 206.19 219.74 233.65 247.86 253.62 267.53 281.14 295.11 302.43 316.33 330.71 336.76 352.72 369.81 378.37 386.60 396.22 402.27 418.22 435.31 444.31 453.60 467.68 482.53 492.15 500.38 510.00 516.61 532.58 546.24 560.09 566.22 578.28 593.98 607.71 622.23 630.65 642.31 656.41 663.44 675.23 689.27" y="0" font-size="24.96" fill="#000">Innate Pharma: graphique du RSI - RSI(14) - AnalyBourse.com</text>
<rect x="102" y="1325" width="1049" height="29" fill="#f9f9f9"/>
<rect x="102" y="1384" width="1049" height="29" fill="#f9f9f9"/>
<rect x="102" y="1442" width="1049" height="29" fill="#f9f9f9"/>
<line x1="109.5" y1="1324" x2="109.5" y2="1500" stroke="#e4e4e4" stroke-dasharray="4 4" shape-rendering="crispEdges"/>
<line x1="129.5" y1="1324" x2="129.5" y2="1500" stroke="#f5f5f5" stroke-dasharray="6 6" shape-rendering="crispEdges"/>
<line x1="148.5" y1="1324" x2="148.5" y2="1500" stroke="#f5f5f5" stroke-dasharray="6 6" shape-rendering="crispEdges"/>
<line x1="168.5" y1="1324" x2="168.5" y2="1500" stroke="#f5f5f5" stroke-dasharray="6 6" shape-rendering="crispEdges"/>
<line x1="187.5" y1="1324" x2="187.5" y2="1500" stroke="#f5f5f5" stroke-dasharray="6 6" shape-rendering="crispEdges"/>
<line x1="206.5" y1="1324" x2="206.5" y2="1500" stroke="#e4e4e4" stroke-dasharray="4 4" shape-rendering="crispEdges"/>
<line x1="226.5" y1="1324" x2="226.5" y2="1500" stroke="#f5f5f5" stroke-dasharray="6 6" shape-rendering="crispEdges"/>
<line x1="245.5" y1="1324" x2="245.5" y2="1500" stroke="#f5f5f5" stroke-dasharray="6 6" shape-rendering="crispEdges"/>
<line x1="265.5" y1="1324" x2="265.5" y2="1500" stroke="#f5f5f5" stroke-dasharray="6 6" shape-rendering="crispEdges"/>
<line x1="284.5" y1="1324" x2="284.5" y2="1500" stroke="#f5f5f5" stroke-dasharray="6 6" shape-rendering="crispEdges"/>
<line x1="304.5" y1="1324" x2="304.5" y2="1500" stroke="#e4e4e4" stroke-dasharray="4 4" shape-rendering="crispEdges"/>
<line x1="323.5" y1="1324" x2="323.5" y2="1500" stroke="#f5f5f5" stroke-dasharray="6 6" shape-rendering="crispEdges"/>
<line x1="343.5" y1="1324" x2="343.5" y2="1500" stroke="#f5f5f5" stroke-dasharray="6 6" shape-rendering="crispEdges"/>
<line x1="362.5" y1="1324" x2="362.5" y2="1500" stroke="#f5f5f5" stroke-dasharray="6 6" shape-rendering="crispEdges"/>
<line x1="381.5" y1="1324" x2="381.5" y2="1500" stroke="#f5f5f5" stroke-dasharray="6 6" shape-rendering="crispEdges"/>
<line x1="401.5" y1="1324" x2="401.5" y2="1500" stroke="#e4e4e4" stroke-dasharray="4 4" shape-rendering="crispEdges"/>
<line x1="420.5" y1="1324" x2="420.5" y2="1500" stroke="#f5f5f5" stroke-dasharray="6 6" shape-rendering="crispEdges"/>
<line x1="440.5" y1="1324" x2="440.5" y2="1500" stroke="#f5f5f5" stroke-dasharray="6 6" shape-rendering="crispEdges"/>
<line x1="459.5" y1="1324" x2="459.5" y2="1500" stroke="#f5f5f5" stroke-dasharray="6 6" shape-rendering="crispEdges"/>
<line x1="479.5" y1="1324" x2="479.5" y2="1500" stroke="#f5f5f5" stroke-dasharray="6 6" shape-rendering="crispEdges"/>
<line x1="498.5" y1="1324" x2="498.5" y2="1500" stroke="#e4e4e4" stroke-dasharray="4 4" shape-rendering="crispEdges"/>
<line x1="518.5" y1="1324" x2="518.5" y2="1500" stroke="#f5f5f5" stroke-dasharray="6 6" shape-rendering="crispEdges"/>
<line x1="537.5" y1="1324" x2="537.5" y2="1500" stroke="#f5f5f5" stroke-dasharray="6 6" shape-rendering="crispEdges"/>
<line x1="556.5" y1="1324" x2="556.5" y2="1500" stroke="#f5f5f5" stroke-dasharray="6 6" shape-rendering="crispEdges"/>
<line x1="576.5" y1="1324" x2="576.5" y2="1500" stroke="#f5f5f5" stroke-dasharray="6 6" shape-rendering="crispEdges"/>
<line x1="595.5" y1="1324" x2="595.5" y2="1500" stroke="#e4e4e4" stroke-dasharray="4 4" shape-rendering="crispEdges"/>
<line x1="615.5" y1="1324" x2="615.5" y2="1500" stroke="#f5f5f5" stroke-dasharray="6 6" shape-rendering="crispEdges"/>
<line x1="634.5" y1="1324" x2="634.5" y2="1500" stroke="#f5f5f5" stroke-dasharray="6 6" shape-rendering="crispEdges"/>
<line x1="654.5" y1="1324" x2="654.5" y2="1500" stroke="#f5f5f5" stroke-dasharray="6 6" shape-rendering="crispEdges"/>
<line x1="673.5" y1="1324" x2="673.5" y2="1500" stroke="#f5f5f5" stroke-dasharray="6 6" shape-rendering="crispEdges"/>
<line x1="693.5" y1="1324" x2="693.5" y2="1500" stroke="#e4e4e4" stroke-dasharray="4 4" shape-rendering="crispEdges"/>
<line x1="712.5" y1="1324" x2="712.5" y2="1500" stroke="#f5f5f5" stroke-dasharray="6 6" shape-rendering="crispEdges"/>
<line x1="731.5" y1="1324" x2="731.5" y2="1500" stroke="#f5f5f5" stroke-dasharray="6 6" shape-rendering="crispEdges"/>
<line x1="751.5" y1="1324" x2="751.5" y2="1500" stroke="#f5f5f5" stroke-dasharray="6 6" shape-rendering="crispEdges"/>
<line x1="770.5" y1="1324" x2="770.5" y2="1500" stroke="#f5f5f5" stroke-dasharray="6 6" shape-rendering="crispEdges"/>
<line x1="790.5" y1="1324" x2="790.5" y2="1500" stroke="#e4e4e4" stroke-dasharray="4 4" shape-rendering="crispEdges"/>
<line x1="809.5" y1="1324" x2="809.5" y2="1500" stroke="#f5f5f5" stroke-dasharray="6 6" shape-rendering="crispEdges"/>
<line x1="829.5" y1="1324" x2="829.5" y2="1500" stroke="#f5f5f5" stroke-dasharray="6 6" shape-rendering="crispEdges"/>
<line x1="848.5" y1="1324" x2="848.5" y2="1500" stroke="#f5f5f5" stroke-dasharray="6 6" shape-rendering="crispEdges"/>
<line x1="868.5" y1="1324" x2="868.5" y2="1500" stroke="#f5f5f5" stroke-dasharray="6 6" shape-rendering="crispEdges"/>
<line x1="887.5" y1="1324" x2="887.5" y2="1500" stroke="#e4e4e4" stroke-dasharray="4 4" shape-rendering="crispEdges"/>
<line x1="906.5" y1="1324" x2="906.5" y2="1500" stroke="#f5f5f5" stroke-dasharray="6 6" shape-rendering="crispEdges"/>
<line x1="926.5" y1="1324" x2="926.5" y2="1500" stroke="#f5f5f5" stroke-dasharray="6 6" shape-rendering="crispEdges"/>
<line x1="945.5" y1="1324" x2="945.5" y2="1500" stroke="#f5f5f5" stroke-dasharray="6 6" shape-rendering="crispEdges"/>
<line x1="965.5" y1="1324" x2="965.5" y2="1500" stroke="#f5f5f5" stroke-dasharray="6 6" shape-rendering="crispEdges"/>
<line x1="984.5" y1="1324" x2="984.5" y2="1500" stroke="#e4e4e4" stroke-dasharray="4 4" shape-rendering="crispEdges"/>
<line x1="1004.5" y1="1324" x2="1004.5" y2="1500" stroke="#f5f5f5" stroke-dasharray="6 6" shape-rendering="crispEdges"/>
<line x1="1023.5" y1="1324" x2="1023.5" y2="1500" stroke="#f5f5f5" stroke-dasharray="6 6" shape-rendering="crispEdges"/>
<line x1="1043.5" y1="1324" x2="1043.5" y2="1500" stroke="#f5f5f5" stroke-dasharray="6 6" shape-rendering="crispEdges"/>
<line x1="1062.5" y1="1324" x2="1062.5" y2="1500" stroke="#f5f5f5" stroke-dasharray="6 6" shape-rendering="crispEdges"/>
<line x1="1081.5" y1="1324" x2="1081.5" y2="1500" stroke="#e4e4e4" stroke-dasharray="4 4" shape-rendering="crispEdges"/>
<line x1="1101.5" y1="1324" x2="1101.5" y2="1500" stroke="#f5f5f5" stroke-dasharray="6 6" shape-rendering="crispEdges"/>
<line x1="1120.5" y1="1324" x2="1120.5" y2="1500" stroke="#f5f5f5" stroke-dasharray="6 6" shape-rendering="crispEdges"/>
<line x1="1140.5" y1="1324" x2="1140.5" y2="1500" stroke="#f5f5f5" stroke-dasharray="6 6" shape-rendering="crispEdges"/>
<line x1="107" y1="1325.5" x2="1151" y2="1325.5" stroke="#e4e4e4" stroke-dasharray="4 4" shape-rendering="crispEdges"/>
<line x1="101" y1="1354.5" x2="1151" y2="1354.5" stroke="#fff" stroke-opacity="0.75" shape-rendering="crispEdges"/>
<line x1="107" y1="1354.5" x2="1151" y2="1354.5" stroke="#e4e4e4" stroke-dasharray="4 4" shape-rendering="crispEdges"/>
<line x1="101" y1="1383.5" x2="1151" y2="1383.5" stroke="#fff" stroke-opacity="0.75" shape-rendering="crispEdges"/>
<line x1="107" y1="1383.5" x2="1151" y2="1383.5" stroke="#e4e4e4" stroke-dasharray="4 4" shape-rendering="crispEdges"/>
<line x1="101" y1="1412.5" x2="1151" y2="1412.5" stroke="#fff" stroke-opacity="0.75" shape-rendering="crispEdges"/>
<line x1="107" y1="1412.5" x2="1151" y2="1412.5" stroke="#e4e4e4" stroke-dasharray="4 4" shape-rendering="crispEdges"/>
<line x1="101" y1="1441.5" x2="1151" y2="1441.5" stroke="#fff" stroke-opacity="0.75" shape-rendering="crispEdges"/>
<line x1="107" y1="1441.5" x2="1151" y2="1441.5" stroke="#e4e4e4" stroke-dasharray="4 4" shape-rendering="crispEdges"/>
<line x1="101" y1="1471.5" x2="1151" y2="1471.5" stroke="#fff" stroke-opacity="0.75" shape-rendering="crispEdges"/>
<line x1="107" y1="1471.5" x2="1151" y2="1471.5" stroke="#e4e4e4" stroke-dasharray="4 4" shape-rendering="crispEdges"/>
<clipPath id="cu"><rect x="100" y="1300" width="1060" height="84"/></clipPath>
<clipPath id="cd"><rect x="100" y="1384" width="1060" height="200"/></clipPath>
<path d="M109.50,1374.00 C112.83,1374.04 123.00,1374.71 129.50,1374.25 C136.00,1373.79 142.00,1373.42 148.50,1371.25 C155.00,1369.08 162.00,1365.50 168.50,1361.25 C175.00,1357.00 181.17,1348.96 187.50,1345.75 C193.83,1342.54 200.00,1342.00 206.50,1342.00 C213.00,1342.00 220.00,1345.54 226.50,1345.75 C233.00,1345.96 239.00,1345.04 245.50,1343.25 C252.00,1341.46 259.00,1336.79 265.50,1335.00 C272.00,1333.21 278.00,1331.67 284.50,1332.50 C291.00,1333.33 298.00,1337.50 304.50,1340.00 C311.00,1342.50 317.00,1345.21 323.50,1347.50 C330.00,1349.79 337.00,1352.17 343.50,1353.75 C350.00,1355.33 356.17,1353.12 362.50,1357.00 C368.83,1360.88 375.00,1372.21 381.50,1377.00 C388.00,1381.79 395.00,1381.29 401.50,1385.75 C408.00,1390.21 414.00,1399.71 420.50,1403.75 C427.00,1407.79 434.00,1407.08 440.50,1410.00 C447.00,1412.92 453.00,1419.92 459.50,1421.25 C466.00,1422.58 473.00,1419.46 479.50,1418.00 C486.00,1416.54 492.00,1415.83 498.50,1412.50 C505.00,1409.17 512.00,1400.92 518.50,1398.00 C525.00,1395.08 531.17,1395.92 537.50,1395.00 C543.83,1394.08 550.00,1393.54 556.50,1392.50 C563.00,1391.46 570.00,1390.35 576.50,1388.75 C583.00,1387.15 589.00,1383.32 595.50,1382.90 C602.00,1382.48 609.00,1382.57 615.50,1386.25 C622.00,1389.93 628.00,1396.04 634.50,1405.00 C641.00,1413.96 648.00,1430.62 654.50,1440.00 C661.00,1449.38 667.00,1454.58 673.50,1461.25 C680.00,1467.92 687.00,1475.96 693.50,1480.00 C700.00,1484.04 706.17,1484.88 712.50,1485.50 C718.83,1486.12 725.00,1485.71 731.50,1483.75 C738.00,1481.79 745.00,1477.38 751.50,1473.75 C758.00,1470.12 764.00,1464.50 770.50,1462.00 C777.00,1459.50 784.00,1460.04 790.50,1458.75 C797.00,1457.46 803.00,1455.79 809.50,1454.25 C816.00,1452.71 823.00,1452.08 829.50,1449.50 C836.00,1446.92 842.00,1443.25 848.50,1438.75 C855.00,1434.25 862.00,1429.17 868.50,1422.50 C875.00,1415.83 881.17,1405.29 887.50,1398.75 C893.83,1392.21 900.00,1387.29 906.50,1383.25 C913.00,1379.21 920.00,1375.79 926.50,1374.50 C933.00,1373.21 939.00,1374.79 945.50,1375.50 C952.00,1376.21 959.00,1378.42 965.50,1378.75 C972.00,1379.08 978.00,1378.33 984.50,1377.50 C991.00,1376.67 998.00,1375.33 1004.50,1373.75 C1011.00,1372.17 1017.00,1370.17 1023.50,1368.00 C1030.00,1365.83 1037.00,1362.58 1043.50,1360.75 C1050.00,1358.92 1056.17,1356.71 1062.50,1357.00 C1068.83,1357.29 1075.00,1360.46 1081.50,1362.50 C1088.00,1364.54 1095.00,1368.00 1101.50,1369.25 C1108.00,1370.50 1114.00,1368.54 1120.50,1370.00 C1127.00,1371.46 1137.17,1376.67 1140.50,1378.00 L1140.5,1384 L109.5,1384 Z" fill="#00ff00" fill-opacity="0.4" clip-path="url(#cu)" shape-rendering="crispEdges"/>
<path d="M109.50,1374.00 C112.83,1374.04 123.00,1374.71 129.50,1374.25 C136.00,1373.79 142.00,1373.42 148.50,1371.25 C155.00,1369.08 162.00,1365.50 168.50,1361.25 C175.00,1357.00 181.17,1348.96 187.50,1345.75 C193.83,1342.54 200.00,1342.00 206.50,1342.00 C213.00,1342.00 220.00,1345.54 226.50,1345.75 C233.00,1345.96 239.00,1345.04 245.50,1343.25 C252.00,1341.46 259.00,1336.79 265.50,1335.00 C272.00,1333.21 278.00,1331.67 284.50,1332.50 C291.00,1333.33 298.00,1337.50 304.50,1340.00 C311.00,1342.50 317.00,1345.21 323.50,1347.50 C330.00,1349.79 337.00,1352.17 343.50,1353.75 C350.00,1355.33 356.17,1353.12 362.50,1357.00 C368.83,1360.88 375.00,1372.21 381.50,1377.00 C388.00,1381.79 395.00,1381.29 401.50,1385.75 C408.00,1390.21 414.00,1399.71 420.50,1403.75 C427.00,1407.79 434.00,1407.08 440.50,1410.00 C447.00,1412.92 453.00,1419.92 459.50,1421.25 C466.00,1422.58 473.00,1419.46 479.50,1418.00 C486.00,1416.54 492.00,1415.83 498.50,1412.50 C505.00,1409.17 512.00,1400.92 518.50,1398.00 C525.00,1395.08 531.17,1395.92 537.50,1395.00 C543.83,1394.08 550.00,1393.54 556.50,1392.50 C563.00,1391.46 570.00,1390.35 576.50,1388.75 C583.00,1387.15 589.00,1383.32 595.50,1382.90 C602.00,1382.48 609.00,1382.57 615.50,1386.25 C622.00,1389.93 628.00,1396.04 634.50,1405.00 C641.00,1413.96 648.00,1430.62 654.50,1440.00 C661.00,1449.38 667.00,1454.58 673.50,1461.25 C680.00,1467.92 687.00,1475.96 693.50,1480.00 C700.00,1484.04 706.17,1484.88 712.50,1485.50 C718.83,1486.12 725.00,1485.71 731.50,1483.75 C738.00,1481.79 745.00,1477.38 751.50,1473.75 C758.00,1470.12 764.00,1464.50 770.50,1462.00 C777.00,1459.50 784.00,1460.04 790.50,1458.75 C797.00,1457.46 803.00,1455.79 809.50,1454.25 C816.00,1452.71 823.00,1452.08 829.50,1449.50 C836.00,1446.92 842.00,1443.25 848.50,1438.75 C855.00,1434.25 862.00,1429.17 868.50,1422.50 C875.00,1415.83 881.17,1405.29 887.50,1398.75 C893.83,1392.21 900.00,1387.29 906.50,1383.25 C913.00,1379.21 920.00,1375.79 926.50,1374.50 C933.00,1373.21 939.00,1374.79 945.50,1375.50 C952.00,1376.21 959.00,1378.42 965.50,1378.75 C972.00,1379.08 978.00,1378.33 984.50,1377.50 C991.00,1376.67 998.00,1375.33 1004.50,1373.75 C1011.00,1372.17 1017.00,1370.17 1023.50,1368.00 C1030.00,1365.83 1037.00,1362.58 1043.50,1360.75 C1050.00,1358.92 1056.17,1356.71 1062.50,1357.00 C1068.83,1357.29 1075.00,1360.46 1081.50,1362.50 C1088.00,1364.54 1095.00,1368.00 1101.50,1369.25 C1108.00,1370.50 1114.00,1368.54 1120.50,1370.00 C1127.00,1371.46 1137.17,1376.67 1140.50,1378.00 L1140.5,1384 L109.5,1384 Z" fill="#ff0000" fill-opacity="0.4" clip-path="url(#cd)" shape-rendering="crispEdges"/>
<g shape-rendering="crispEdges">
<line x1="100.5" y1="1319" x2="100.5" y2="1501" stroke="#000"/>
<line x1="98" y1="1500.5" x2="1156" y2="1500.5" stroke="#000"/>
<line x1="98" y1="1325.5" x2="103" y2="1325.5" stroke="#000"/>
<line x1="98" y1="1354.5" x2="103" y2="1354.5" stroke="#000"/>
<line x1="98" y1="1383.5" x2="103" y2="1383.5" stroke="#000"/>
<line x1="98" y1="1412.5" x2="103" y2="1412.5" stroke="#000"/>
<line x1="98" y1="1441.5" x2="103" y2="1441.5" stroke="#000"/>
<line x1="98" y1="1471.5" x2="103" y2="1471.5" stroke="#000"/>
<line x1="98" y1="1500.5" x2="103" y2="1500.5" stroke="#000"/>
<line x1="98" y1="1340.5" x2="100" y2="1340.5" stroke="#f00"/>
<line x1="98" y1="1369.5" x2="100" y2="1369.5" stroke="#f00"/>
<line x1="98" y1="1398.5" x2="100" y2="1398.5" stroke="#f00"/>
<line x1="98" y1="1427.5" x2="100" y2="1427.5" stroke="#f00"/>
<line x1="98" y1="1456.5" x2="100" y2="1456.5" stroke="#f00"/>
<line x1="98" y1="1486.5" x2="100" y2="1486.5" stroke="#f00"/>
<line x1="109.5" y1="1498" x2="109.5" y2="1503" stroke="#000"/>
<line x1="129.5" y1="1501" x2="129.5" y2="1503" stroke="#d0d0d0"/>
<line x1="148.5" y1="1501" x2="148.5" y2="1503" stroke="#d0d0d0"/>
<line x1="168.5" y1="1501" x2="168.5" y2="1503" stroke="#d0d0d0"/>
<line x1="187.5" y1="1501" x2="187.5" y2="1503" stroke="#d0d0d0"/>
<line x1="206.5" y1="1498" x2="206.5" y2="1503" stroke="#000"/>
<line x1="226.5" y1="1501" x2="226.5" y2="1503" stroke="#d0d0d0"/>
<line x1="245.5" y1="1501" x2="245.5" y2="1503" stroke="#d0d0d0"/>
<line x1="265.5" y1="1501" x2="265.5" y2="1503" stroke="#d0d0d0"/>
<line x1="284.5" y1="1501" x2="284.5" y2="1503" stroke="#d0d0d0"/>
<line x1="304.5" y1="1498" x2="304.5" y2="1503" stroke="#000"/>
<line x1="323.5" y1="1501" x2="323.5" y2="1503" stroke="#d0d0d0"/>
<line x1="343.5" y1="1501" x2="343.5" y2="1503" stroke="#d0d0d0"/>
<line x1="362.5" y1="1501" x2="362.5" y2="1503" stroke="#d0d0d0"/>
<line x1="381.5" y1="1501" x2="381.5" y2="1503" stroke="#d0d0d0"/>
<line x1="401.5" y1="1498" x2="401.5" y2="1503" stroke="#000"/>
<line x1="420.5" y1="1501" x2="420.5" y2="1503" stroke="#d0d0d0"/>
<line x1="440.5" y1="1501" x2="440.5" y2="1503" stroke="#d0d0d0"/>
<line x1="459.5" y1="1501" x2="459.5" y2="1503" stroke="#d0d0d0"/>
<line x1="479.5" y1="1501" x2="479.5" y2="1503" stroke="#d0d0d0"/>
<line x1="498.5" y1="1498" x2="498.5" y2="1503" stroke="#000"/>
<line x1="518.5" y1="1501" x2="518.5" y2="1503" stroke="#d0d0d0"/>
<line x1="537.5" y1="1501" x2="537.5" y2="1503" stroke="#d0d0d0"/>
<line x1="556.5" y1="1501" x2="556.5" y2="1503" stroke="#d0d0d0"/>
<line x1="576.5" y1="1501" x2="576.5" y2="1503" stroke="#d0d0d0"/>
<line x1="595.5" y1="1498" x2="595.5" y2="1503" stroke="#000"/>
<line x1="615.5" y1="1501" x2="615.5" y2="1503" stroke="#d0d0d0"/>
<line x1="634.5" y1="1501" x2="634.5" y2="1503" stroke="#d0d0d0"/>
<line x1="654.5" y1="1501" x2="654.5" y2="1503" stroke="#d0d0d0"/>
<line x1="673.5" y1="1501" x2="673.5" y2="1503" stroke="#d0d0d0"/>
<line x1="693.5" y1="1498" x2="693.5" y2="1503" stroke="#000"/>
<line x1="712.5" y1="1501" x2="712.5" y2="1503" stroke="#d0d0d0"/>
<line x1="731.5" y1="1501" x2="731.5" y2="1503" stroke="#d0d0d0"/>
<line x1="751.5" y1="1501" x2="751.5" y2="1503" stroke="#d0d0d0"/>
<line x1="770.5" y1="1501" x2="770.5" y2="1503" stroke="#d0d0d0"/>
<line x1="790.5" y1="1498" x2="790.5" y2="1503" stroke="#000"/>
<line x1="809.5" y1="1501" x2="809.5" y2="1503" stroke="#d0d0d0"/>
<line x1="829.5" y1="1501" x2="829.5" y2="1503" stroke="#d0d0d0"/>
<line x1="848.5" y1="1501" x2="848.5" y2="1503" stroke="#d0d0d0"/>
<line x1="868.5" y1="1501" x2="868.5" y2="1503" stroke="#d0d0d0"/>
<line x1="887.5" y1="1498" x2="887.5" y2="1503" stroke="#000"/>
<line x1="906.5" y1="1501" x2="906.5" y2="1503" stroke="#d0d0d0"/>
<line x1="926.5" y1="1501" x2="926.5" y2="1503" stroke="#d0d0d0"/>
<line x1="945.5" y1="1501" x2="945.5" y2="1503" stroke="#d0d0d0"/>
<line x1="965.5" y1="1501" x2="965.5" y2="1503" stroke="#d0d0d0"/>
<line x1="984.5" y1="1498" x2="984.5" y2="1503" stroke="#000"/>
<line x1="1004.5" y1="1501" x2="1004.5" y2="1503" stroke="#d0d0d0"/>
<line x1="1023.5" y1="1501" x2="1023.5" y2="1503" stroke="#d0d0d0"/>
<line x1="1043.5" y1="1501" x2="1043.5" y2="1503" stroke="#d0d0d0"/>
<line x1="1062.5" y1="1501" x2="1062.5" y2="1503" stroke="#d0d0d0"/>
<line x1="1081.5" y1="1498" x2="1081.5" y2="1503" stroke="#000"/>
<line x1="1101.5" y1="1501" x2="1101.5" y2="1503" stroke="#d0d0d0"/>
<line x1="1120.5" y1="1501" x2="1120.5" y2="1503" stroke="#d0d0d0"/>
<line x1="1140.5" y1="1501" x2="1140.5" y2="1503" stroke="#d0d0d0"/>
</g>
<path shape-rendering="crispEdges" fill="#000" d="M100,1313h1v1h-1z M99,1314h3v2h-3z M98,1316h5v2h-5z M97,1318h7v2h-7z M1155,1497h2v7h-2z M1157,1498h2v5h-2z M1159,1499h2v3h-2z M1161,1500h2v1h-2z"/>
<text transform="translate(71.01 1328.90) scale(1.0 1)" x="0.19 6.88 10.49 17.03" y="0" font-size="11.10" fill="#000">0.10</text>
<text transform="translate(71.01 1357.90) scale(1.0 1)" x="0.19 6.88 10.49 17.03" y="0" font-size="11.10" fill="#000">0.05</text>
<text transform="translate(71.01 1386.90) scale(1.0 1)" x="0.19 6.88 10.49 17.03" y="0" font-size="11.10" fill="#000">0.00</text>
<text transform="translate(66.33 1415.90) scale(1.0 1)" x="0.49 4.86 11.56 15.16 21.71" y="0" font-size="11.10" fill="#000">-0.05</text>
<text transform="translate(66.33 1444.90) scale(1.0 1)" x="0.49 4.86 11.56 15.16 21.71" y="0" font-size="11.10" fill="#000">-0.10</text>
<text transform="translate(66.33 1474.90) scale(1.0 1)" x="0.49 4.86 11.56 15.16 21.71" y="0" font-size="11.10" fill="#000">-0.15</text>
<text transform="translate(66.33 1503.90) scale(1.0 1)" x="0.49 4.86 11.56 15.16 21.71" y="0" font-size="11.10" fill="#000">-0.20</text>
<text transform="translate(91.24 1512.70) scale(1.04 1)" x="0.13 6.56 13.09 16.05 24.88 31.16" y="0" font-size="11.10" fill="#000">17 Mai</text>
<text transform="translate(188.24 1512.70) scale(1.04 1)" x="0.13 6.56 13.09 16.05 24.88 31.16" y="0" font-size="11.10" fill="#000">24 Mai</text>
<text transform="translate(286.24 1512.70) scale(1.04 1)" x="0.13 6.56 13.09 16.05 24.88 31.16" y="0" font-size="11.10" fill="#000">31 Mai</text>
<text transform="translate(385.12 1512.70) scale(1.04 1)" x="0.13 6.66 9.51 14.70 21.13 23.86" y="0" font-size="11.10" fill="#000">7 Juin</text>
<text transform="translate(478.78 1512.70) scale(1.04 1)" x="0.13 6.56 13.09 15.94 21.12 27.56 30.29" y="0" font-size="11.10" fill="#000">14 Juin</text>
<text transform="translate(575.78 1512.70) scale(1.04 1)" x="0.13 6.56 13.09 15.94 21.12 27.56 30.29" y="0" font-size="11.10" fill="#000">22 Juin</text>
<text transform="translate(673.78 1512.70) scale(1.04 1)" x="0.13 6.56 13.09 15.94 21.12 27.56 30.29" y="0" font-size="11.10" fill="#000">29 Juin</text>
<text transform="translate(776.01 1512.70) scale(1.04 1)" x="0.13 6.66 9.51 14.70 21.13 23.90" y="0" font-size="11.10" fill="#000">6 Juil</text>
<text transform="translate(869.67 1512.70) scale(1.04 1)" x="0.13 6.56 13.09 15.94 21.12 27.56 30.33" y="0" font-size="11.10" fill="#000">13 Juil</text>
<text transform="translate(966.67 1512.70) scale(1.04 1)" x="0.13 6.56 13.09 15.94 21.12 27.56 30.33" y="0" font-size="11.10" fill="#000">20 Juil</text>
<text transform="translate(1063.67 1512.70) scale(1.04 1)" x="0.13 6.56 13.09 15.94 21.12 27.56 30.33" y="0" font-size="11.10" fill="#000">27 Juil</text>
<text transform="translate(513.93 1525.50) scale(1.04 1)" x="-0.05 7.91 14.56 18.09 24.50 28.33 32.61 39.06 45.65 49.18 55.70 62.31 65.36 74.31 80.65 83.55 87.08 93.60 100.13 106.65 113.26 116.61 122.94 129.54 133.06 139.38 145.87 150.17 153.32 160.56 166.92 173.73 177.56 181.08 187.61 194.13 200.66 207.49" y="0" font-size="11.10" fill="#000">Date (du 17 Mai 2017 au 1er Août 2017)</text>
<text transform="translate(63.30 1412.50) rotate(-90) translate(-15.98 0) scale(1.04 1)" x="-0.30 8.46 15.24 22.78" y="0" font-size="11.10" fill="#000">MACD</text>
<text transform="translate(110.00 1294.00) scale(1.08 1)" x="1.19 9.39 23.41 37.07 51.56 59.05 73.02 78.74 93.81 107.47 121.64 130.90 151.78 166.93 175.86 183.18 197.59 206.19 219.74 233.65 247.86 253.62 267.53 281.14 295.11 302.43 316.33 330.71 337.02 356.00 370.61 386.87 404.85 413.09 422.70 429.01 447.98 462.60 478.86 497.28 506.57 520.65 535.20 542.80 556.88 571.42 579.02 593.88 603.49 611.73 621.34 627.95 643.92 657.58 671.44 677.56 689.62 705.32 719.05 733.58 741.99 753.65 767.76 774.78 786.57 800.61" y="0" font-size="24.96" fill="#000">Innate Pharma: graphique du MACD - MACD(12,26,9) - AnalyBourse.com</text>
</svg></body></html>
